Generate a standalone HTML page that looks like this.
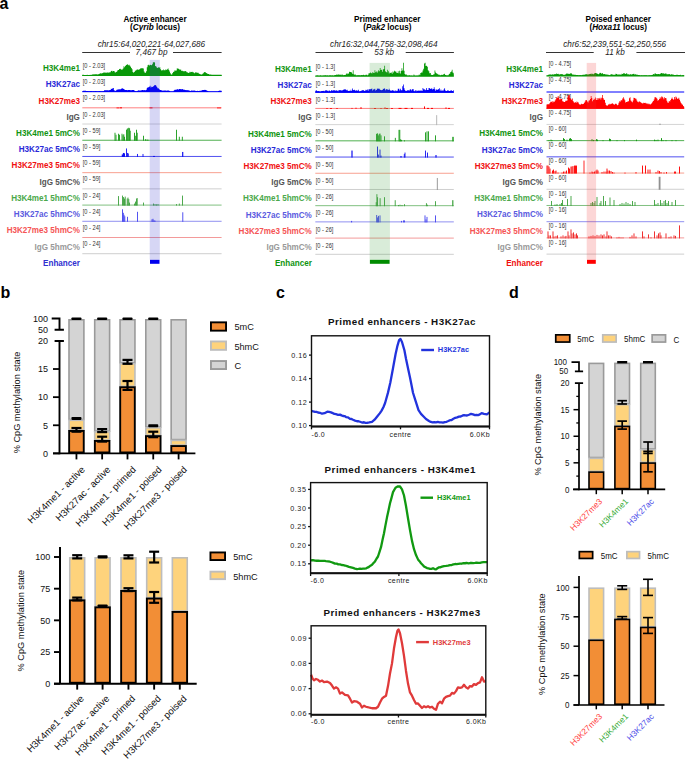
<!DOCTYPE html>
<html><head><meta charset="utf-8"><style>
html,body{margin:0;padding:0;background:#fff;width:685px;height:759px;overflow:hidden}
svg{display:block}
text{font-family:"Liberation Sans", sans-serif}
</style></head><body>
<svg width="685" height="759" viewBox="0 0 685 759">
<rect width="685" height="759" fill="#fff"/>
<g font-family='"Liberation Sans", sans-serif'>
<text x="-0.60" y="8.80" font-size="16" font-weight="bold" fill="#000" text-anchor="start" >a</text>
<text x="0" y="0" transform="translate(155.00,22.00) scale(0.91,1)" font-size="9.0" font-weight="bold" fill="#000" text-anchor="middle" >Active enhancer</text>
<text x="0" y="0" transform="translate(155.00,30.20) scale(0.91,1)" font-size="9.0" font-weight="bold" fill="#000" text-anchor="middle" >(<tspan font-style="italic">Cyrib</tspan> locus)</text>
<text x="151.40" y="46.50" font-size="8.2" font-style="italic" fill="#222" text-anchor="middle" >chr15:64,020,221-64,027,686</text>
<line x1="82.20" y1="52.50" x2="130.00" y2="52.50" stroke="#333" stroke-width="1.1" />
<line x1="173.00" y1="52.50" x2="221.60" y2="52.50" stroke="#333" stroke-width="1.1" />
<text x="151.50" y="54.80" font-size="8.2" font-style="italic" fill="#222" text-anchor="middle" >7,467 bp</text>
<text x="0" y="0" transform="translate(79.90,71.20) scale(0.9,1)" font-size="9.0" font-weight="bold" fill="#109410" text-anchor="end" >H3K4me1</text>
<text x="0" y="0" transform="translate(82.80,68.00) scale(0.86,1)" font-size="6.6" fill="#333" text-anchor="start" >[0 - 2.03]</text>
<path d="M82.30,75.90 L82.30,74.80 L83.05,74.80 L83.05,74.82 L83.80,74.82 L83.80,74.90 L84.55,74.90 L84.55,74.96 L85.30,74.96 L85.30,74.91 L86.05,74.91 L86.05,74.92 L86.80,74.92 L86.80,74.84 L87.55,74.84 L87.55,74.93 L88.30,74.93 L88.30,74.91 L89.05,74.91 L89.05,74.88 L89.80,74.88 L89.80,74.80 L90.55,74.80 L90.55,74.88 L91.30,74.88 L91.30,74.78 L92.05,74.78 L92.05,74.41 L92.80,74.41 L92.80,74.36 L93.55,74.36 L93.55,74.48 L94.30,74.48 L94.30,74.27 L95.05,74.27 L95.05,74.20 L95.80,74.20 L95.80,74.25 L96.55,74.25 L96.55,74.22 L97.30,74.22 L97.30,74.43 L98.05,74.43 L98.05,74.32 L98.80,74.32 L98.80,74.08 L99.55,74.08 L99.55,73.49 L100.30,73.49 L100.30,73.35 L101.05,73.35 L101.05,73.46 L101.80,73.46 L101.80,73.17 L102.55,73.17 L102.55,72.88 L103.30,72.88 L103.30,72.56 L104.05,72.56 L104.05,72.40 L104.80,72.40 L104.80,72.69 L105.55,72.69 L105.55,72.41 L106.30,72.41 L106.30,72.78 L107.05,72.78 L107.05,72.38 L107.80,72.38 L107.80,72.46 L108.55,72.46 L108.55,72.87 L109.30,72.87 L109.30,72.33 L110.05,72.33 L110.05,72.16 L110.80,72.16 L110.80,71.11 L111.55,71.11 L111.55,70.74 L112.30,70.74 L112.30,71.47 L113.05,71.47 L113.05,71.02 L113.80,71.02 L113.80,71.12 L114.55,71.12 L114.55,72.36 L115.30,72.36 L115.30,72.54 L116.05,72.54 L116.05,72.12 L116.80,72.12 L116.80,71.17 L117.55,71.17 L117.55,69.96 L118.30,69.96 L118.30,70.11 L119.05,70.11 L119.05,68.92 L119.80,68.92 L119.80,68.82 L120.55,68.82 L120.55,69.25 L121.30,69.25 L121.30,69.83 L122.05,69.83 L122.05,69.45 L122.80,69.45 L122.80,68.56 L123.55,68.56 L123.55,66.28 L124.30,66.28 L124.30,67.27 L125.05,67.27 L125.05,66.06 L125.80,66.06 L125.80,65.04 L126.55,65.04 L126.55,64.84 L127.30,64.84 L127.30,64.35 L128.05,64.35 L128.05,65.26 L128.80,65.26 L128.80,64.74 L129.55,64.74 L129.55,65.80 L130.30,65.80 L130.30,66.77 L131.05,66.77 L131.05,68.00 L131.80,68.00 L131.80,69.13 L132.55,69.13 L132.55,72.00 L133.30,72.00 L133.30,72.67 L134.05,72.67 L134.05,72.05 L134.80,72.05 L134.80,70.76 L135.55,70.76 L135.55,70.44 L136.30,70.44 L136.30,69.68 L137.05,69.68 L137.05,69.39 L137.80,69.39 L137.80,69.53 L138.55,69.53 L138.55,70.08 L139.30,70.08 L139.30,69.08 L140.05,69.08 L140.05,68.61 L140.80,68.61 L140.80,68.36 L141.55,68.36 L141.55,68.36 L142.30,68.36 L142.30,68.19 L143.05,68.19 L143.05,68.50 L143.80,68.50 L143.80,71.59 L144.55,71.59 L144.55,72.72 L145.30,72.72 L145.30,72.72 L146.05,72.72 L146.05,71.20 L146.80,71.20 L146.80,67.13 L147.55,67.13 L147.55,65.31 L148.30,65.31 L148.30,64.83 L149.05,64.83 L149.05,65.47 L149.80,65.47 L149.80,64.66 L150.55,64.66 L150.55,65.10 L151.30,65.10 L151.30,65.23 L152.05,65.23 L152.05,64.27 L152.80,64.27 L152.80,62.48 L153.55,62.48 L153.55,62.10 L154.30,62.10 L154.30,62.58 L155.05,62.58 L155.05,66.00 L155.80,66.00 L155.80,66.47 L156.55,66.47 L156.55,67.62 L157.30,67.62 L157.30,67.93 L158.05,67.93 L158.05,67.13 L158.80,67.13 L158.80,67.75 L159.55,67.75 L159.55,67.28 L160.30,67.28 L160.30,69.30 L161.05,69.30 L161.05,70.48 L161.80,70.48 L161.80,70.04 L162.55,70.04 L162.55,70.38 L163.30,70.38 L163.30,69.57 L164.05,69.57 L164.05,70.26 L164.80,70.26 L164.80,70.22 L165.55,70.22 L165.55,69.28 L166.30,69.28 L166.30,70.04 L167.05,70.04 L167.05,69.28 L167.80,69.28 L167.80,68.49 L168.55,68.49 L168.55,69.88 L169.30,69.88 L169.30,71.38 L170.05,71.38 L170.05,73.32 L170.80,73.32 L170.80,74.48 L171.55,74.48 L171.55,74.39 L172.30,74.39 L172.30,72.97 L173.05,72.97 L173.05,71.91 L173.80,71.91 L173.80,71.38 L174.55,71.38 L174.55,70.16 L175.30,70.16 L175.30,70.81 L176.05,70.81 L176.05,70.48 L176.80,70.48 L176.80,68.28 L177.55,68.28 L177.55,68.64 L178.30,68.64 L178.30,68.77 L179.05,68.77 L179.05,69.44 L179.80,69.44 L179.80,69.57 L180.55,69.57 L180.55,69.84 L181.30,69.84 L181.30,71.05 L182.05,71.05 L182.05,70.79 L182.80,70.79 L182.80,71.22 L183.55,71.22 L183.55,71.22 L184.30,71.22 L184.30,71.37 L185.05,71.37 L185.05,71.02 L185.80,71.02 L185.80,71.59 L186.55,71.59 L186.55,72.27 L187.30,72.27 L187.30,72.54 L188.05,72.54 L188.05,72.91 L188.80,72.91 L188.80,72.79 L189.55,72.79 L189.55,71.82 L190.30,71.82 L190.30,72.19 L191.05,72.19 L191.05,71.96 L191.80,71.96 L191.80,71.87 L192.55,71.87 L192.55,72.17 L193.30,72.17 L193.30,72.58 L194.05,72.58 L194.05,73.24 L194.80,73.24 L194.80,72.71 L195.55,72.71 L195.55,72.02 L196.30,72.02 L196.30,72.72 L197.05,72.72 L197.05,72.66 L197.80,72.66 L197.80,72.86 L198.55,72.86 L198.55,73.51 L199.30,73.51 L199.30,73.96 L200.05,73.96 L200.05,74.19 L200.80,74.19 L200.80,74.57 L201.55,74.57 L201.55,74.54 L202.30,74.54 L202.30,73.85 L203.05,73.85 L203.05,73.18 L203.80,73.18 L203.80,72.34 L204.55,72.34 L204.55,71.97 L205.30,71.97 L205.30,72.54 L206.05,72.54 L206.05,73.08 L206.80,73.08 L206.80,73.40 L207.55,73.40 L207.55,73.97 L208.30,73.97 L208.30,74.10 L209.05,74.10 L209.05,74.50 L209.80,74.50 L209.80,74.44 L210.55,74.44 L210.55,74.62 L211.30,74.62 L211.30,74.80 L212.05,74.80 L212.05,74.82 L212.80,74.82 L212.80,74.87 L213.55,74.87 L213.55,74.69 L214.30,74.69 L214.30,74.82 L215.05,74.82 L215.05,74.86 L215.80,74.86 L215.80,74.85 L216.55,74.85 L216.55,74.69 L217.30,74.69 L217.30,74.74 L218.05,74.74 L218.05,74.76 L218.80,74.76 L218.80,74.73 L219.55,74.73 L219.55,74.82 L220.30,74.82 L220.30,74.83 L221.05,74.83 L221.05,74.77 L221.60,74.77 L221.60,75.90 Z" fill="#089808"/>
<line x1="82.30" y1="75.50" x2="221.60" y2="75.50" stroke="#089808" stroke-width="0.9" />
<text x="0" y="0" transform="translate(79.90,87.41) scale(0.9,1)" font-size="9.0" font-weight="bold" fill="#2828d8" text-anchor="end" >H3K27ac</text>
<text x="0" y="0" transform="translate(82.80,84.21) scale(0.86,1)" font-size="6.6" fill="#333" text-anchor="start" >[0 - 2.03]</text>
<path d="M82.30,92.11 L82.30,91.16 L83.05,91.16 L83.05,90.79 L83.80,90.79 L83.80,90.64 L84.55,90.64 L84.55,90.74 L85.30,90.74 L85.30,90.77 L86.05,90.77 L86.05,90.95 L86.80,90.95 L86.80,91.03 L87.55,91.03 L87.55,91.00 L88.30,91.00 L88.30,91.22 L89.05,91.22 L89.05,91.28 L89.80,91.28 L89.80,91.04 L90.55,91.04 L90.55,91.12 L91.30,91.12 L91.30,91.03 L92.05,91.03 L92.05,91.25 L92.80,91.25 L92.80,91.16 L93.55,91.16 L93.55,91.05 L94.30,91.05 L94.30,91.18 L95.05,91.18 L95.05,90.98 L95.80,90.98 L95.80,90.96 L96.55,90.96 L96.55,91.23 L97.30,91.23 L97.30,91.29 L98.05,91.29 L98.05,91.13 L98.80,91.13 L98.80,90.97 L99.55,90.97 L99.55,91.12 L100.30,91.12 L100.30,91.20 L101.05,91.20 L101.05,91.15 L101.80,91.15 L101.80,91.27 L102.55,91.27 L102.55,91.23 L103.30,91.23 L103.30,90.88 L104.05,90.88 L104.05,90.27 L104.80,90.27 L104.80,90.31 L105.55,90.31 L105.55,90.32 L106.30,90.32 L106.30,90.33 L107.05,90.33 L107.05,90.18 L107.80,90.18 L107.80,90.26 L108.55,90.26 L108.55,90.45 L109.30,90.45 L109.30,89.96 L110.05,89.96 L110.05,90.04 L110.80,90.04 L110.80,88.74 L111.55,88.74 L111.55,88.99 L112.30,88.99 L112.30,88.13 L113.05,88.13 L113.05,88.11 L113.80,88.11 L113.80,89.90 L114.55,89.90 L114.55,91.15 L115.30,91.15 L115.30,90.76 L116.05,90.76 L116.05,90.13 L116.80,90.13 L116.80,89.57 L117.55,89.57 L117.55,89.72 L118.30,89.72 L118.30,89.32 L119.05,89.32 L119.05,89.25 L119.80,89.25 L119.80,89.44 L120.55,89.44 L120.55,89.07 L121.30,89.07 L121.30,88.55 L122.05,88.55 L122.05,88.31 L122.80,88.31 L122.80,88.65 L123.55,88.65 L123.55,88.92 L124.30,88.92 L124.30,89.74 L125.05,89.74 L125.05,90.00 L125.80,90.00 L125.80,89.90 L126.55,89.90 L126.55,90.12 L127.30,90.12 L127.30,90.32 L128.05,90.32 L128.05,90.12 L128.80,90.12 L128.80,89.98 L129.55,89.98 L129.55,89.97 L130.30,89.97 L130.30,90.16 L131.05,90.16 L131.05,90.16 L131.80,90.16 L131.80,90.11 L132.55,90.11 L132.55,89.93 L133.30,89.93 L133.30,90.06 L134.05,90.06 L134.05,90.49 L134.80,90.49 L134.80,90.99 L135.55,90.99 L135.55,91.24 L136.30,91.24 L136.30,91.28 L137.05,91.28 L137.05,90.96 L137.80,90.96 L137.80,90.37 L138.55,90.37 L138.55,90.40 L139.30,90.40 L139.30,90.49 L140.05,90.49 L140.05,90.60 L140.80,90.60 L140.80,90.41 L141.55,90.41 L141.55,90.07 L142.30,90.07 L142.30,90.09 L143.05,90.09 L143.05,90.20 L143.80,90.20 L143.80,90.00 L144.55,90.00 L144.55,90.31 L145.30,90.31 L145.30,90.17 L146.05,90.17 L146.05,89.76 L146.80,89.76 L146.80,88.07 L147.55,88.07 L147.55,87.27 L148.30,87.27 L148.30,87.30 L149.05,87.30 L149.05,86.69 L149.80,86.69 L149.80,85.80 L150.55,85.80 L150.55,87.50 L151.30,87.50 L151.30,86.83 L152.05,86.83 L152.05,86.93 L152.80,86.93 L152.80,86.41 L153.55,86.41 L153.55,85.90 L154.30,85.90 L154.30,85.03 L155.05,85.03 L155.05,85.10 L155.80,85.10 L155.80,85.78 L156.55,85.78 L156.55,86.89 L157.30,86.89 L157.30,88.29 L158.05,88.29 L158.05,88.15 L158.80,88.15 L158.80,89.08 L159.55,89.08 L159.55,89.91 L160.30,89.91 L160.30,90.05 L161.05,90.05 L161.05,90.28 L161.80,90.28 L161.80,90.59 L162.55,90.59 L162.55,90.73 L163.30,90.73 L163.30,90.62 L164.05,90.62 L164.05,90.49 L164.80,90.49 L164.80,90.41 L165.55,90.41 L165.55,90.43 L166.30,90.43 L166.30,90.63 L167.05,90.63 L167.05,90.51 L167.80,90.51 L167.80,90.48 L168.55,90.48 L168.55,90.54 L169.30,90.54 L169.30,90.95 L170.05,90.95 L170.05,91.41 L170.80,91.41 L170.80,91.41 L171.55,91.41 L171.55,91.41 L172.30,91.41 L172.30,91.41 L173.05,91.41 L173.05,91.30 L173.80,91.30 L173.80,90.20 L174.55,90.20 L174.55,89.79 L175.30,89.79 L175.30,89.78 L176.05,89.78 L176.05,89.77 L176.80,89.77 L176.80,89.09 L177.55,89.09 L177.55,89.42 L178.30,89.42 L178.30,89.58 L179.05,89.58 L179.05,89.00 L179.80,89.00 L179.80,89.05 L180.55,89.05 L180.55,89.25 L181.30,89.25 L181.30,89.17 L182.05,89.17 L182.05,89.02 L182.80,89.02 L182.80,89.57 L183.55,89.57 L183.55,89.83 L184.30,89.83 L184.30,89.82 L185.05,89.82 L185.05,90.00 L185.80,90.00 L185.80,90.13 L186.55,90.13 L186.55,90.05 L187.30,90.05 L187.30,90.34 L188.05,90.34 L188.05,90.31 L188.80,90.31 L188.80,90.48 L189.55,90.48 L189.55,90.80 L190.30,90.80 L190.30,90.88 L191.05,90.88 L191.05,90.50 L191.80,90.50 L191.80,90.58 L192.55,90.58 L192.55,90.71 L193.30,90.71 L193.30,90.51 L194.05,90.51 L194.05,90.38 L194.80,90.38 L194.80,90.79 L195.55,90.79 L195.55,90.92 L196.30,90.92 L196.30,90.94 L197.05,90.94 L197.05,90.76 L197.80,90.76 L197.80,91.00 L198.55,91.00 L198.55,90.90 L199.30,90.90 L199.30,90.87 L200.05,90.87 L200.05,90.76 L200.80,90.76 L200.80,90.75 L201.55,90.75 L201.55,90.20 L202.30,90.20 L202.30,90.02 L203.05,90.02 L203.05,90.01 L203.80,90.01 L203.80,90.07 L204.55,90.07 L204.55,89.74 L205.30,89.74 L205.30,90.08 L206.05,90.08 L206.05,90.27 L206.80,90.27 L206.80,90.67 L207.55,90.67 L207.55,91.00 L208.30,91.00 L208.30,91.41 L209.05,91.41 L209.05,91.41 L209.80,91.41 L209.80,91.41 L210.55,91.41 L210.55,91.41 L211.30,91.41 L211.30,91.41 L212.05,91.41 L212.05,91.41 L212.80,91.41 L212.80,91.41 L213.55,91.41 L213.55,91.41 L214.30,91.41 L214.30,91.41 L215.05,91.41 L215.05,91.41 L215.80,91.41 L215.80,91.41 L216.55,91.41 L216.55,91.41 L217.30,91.41 L217.30,91.40 L218.05,91.40 L218.05,91.06 L218.80,91.06 L218.80,90.64 L219.55,90.64 L219.55,90.49 L220.30,90.49 L220.30,90.63 L221.05,90.63 L221.05,90.84 L221.60,90.84 L221.60,92.11 Z" fill="#0000f8"/>
<line x1="82.30" y1="91.71" x2="221.60" y2="91.71" stroke="#0000f8" stroke-width="0.9" />
<text x="0" y="0" transform="translate(79.90,103.62) scale(0.9,1)" font-size="9.0" font-weight="bold" fill="#f01010" text-anchor="end" >H3K27me3</text>
<text x="0" y="0" transform="translate(82.80,100.42) scale(0.86,1)" font-size="6.6" fill="#333" text-anchor="start" >[0 - 2.03]</text>
<line x1="82.30" y1="107.82" x2="221.60" y2="107.82" stroke="#ff8080" stroke-width="1.0" />
<rect x="116.50" y="107.52" width="3.00" height="0.80" fill="#ff0000" />
<rect x="120.00" y="107.32" width="2.00" height="1.00" fill="#ff0000" />
<rect x="149.50" y="107.42" width="3.00" height="0.90" fill="#ff0000" />
<rect x="217.00" y="107.52" width="4.00" height="0.80" fill="#ff0000" />
<text x="0" y="0" transform="translate(79.90,119.83) scale(0.9,1)" font-size="9.0" font-weight="bold" fill="#555555" text-anchor="end" >IgG</text>
<text x="0" y="0" transform="translate(82.80,116.63) scale(0.86,1)" font-size="6.6" fill="#333" text-anchor="start" >[0 - 2.03]</text>
<line x1="82.30" y1="124.03" x2="221.60" y2="124.03" stroke="#d4d4d4" stroke-width="1.0" />
<text x="0" y="0" transform="translate(79.90,136.04) scale(0.9,1)" font-size="9.0" font-weight="bold" fill="#109410" text-anchor="end" >H3K4me1 5mC%</text>
<text x="0" y="0" transform="translate(82.80,132.84) scale(0.86,1)" font-size="6.6" fill="#333" text-anchor="start" >[0 - 59]</text>
<line x1="82.30" y1="140.24" x2="221.60" y2="140.24" stroke="#50b050" stroke-width="1.0" />
<rect x="114.55" y="132.74" width="0.90" height="8.00" fill="#159915" />
<rect x="115.55" y="134.74" width="0.90" height="6.00" fill="#159915" />
<rect x="118.05" y="133.74" width="0.90" height="7.00" fill="#159915" />
<rect x="119.05" y="134.74" width="0.90" height="6.00" fill="#159915" />
<rect x="121.55" y="133.74" width="0.90" height="7.00" fill="#159915" />
<rect x="122.55" y="135.24" width="0.90" height="5.50" fill="#159915" />
<rect x="123.35" y="134.24" width="0.90" height="6.50" fill="#159915" />
<rect x="124.05" y="136.74" width="0.90" height="4.00" fill="#159915" />
<rect x="126.05" y="129.74" width="0.90" height="11.00" fill="#159915" />
<rect x="126.85" y="128.74" width="0.90" height="12.00" fill="#159915" />
<rect x="127.55" y="128.24" width="0.90" height="12.50" fill="#159915" />
<rect x="128.35" y="127.74" width="0.90" height="13.00" fill="#159915" />
<rect x="129.15" y="128.24" width="0.90" height="12.50" fill="#159915" />
<rect x="129.75" y="130.74" width="0.90" height="10.00" fill="#159915" />
<rect x="134.05" y="132.74" width="0.90" height="8.00" fill="#159915" />
<rect x="134.85" y="135.74" width="0.90" height="5.00" fill="#159915" />
<rect x="136.05" y="129.74" width="0.90" height="11.00" fill="#159915" />
<rect x="136.75" y="132.74" width="0.90" height="8.00" fill="#159915" />
<rect x="143.05" y="135.74" width="0.90" height="5.00" fill="#159915" />
<rect x="145.05" y="139.24" width="0.90" height="1.50" fill="#159915" />
<rect x="146.55" y="139.54" width="0.90" height="1.20" fill="#159915" />
<rect x="147.55" y="139.74" width="0.90" height="1.00" fill="#159915" />
<rect x="176.05" y="129.74" width="0.90" height="11.00" fill="#159915" />
<rect x="178.85" y="136.74" width="0.90" height="4.00" fill="#159915" />
<rect x="181.85" y="136.74" width="0.90" height="4.00" fill="#159915" />
<text x="0" y="0" transform="translate(79.90,152.25) scale(0.9,1)" font-size="9.0" font-weight="bold" fill="#2828d8" text-anchor="end" >H3K27ac 5mC%</text>
<text x="0" y="0" transform="translate(82.80,149.05) scale(0.86,1)" font-size="6.6" fill="#333" text-anchor="start" >[0 - 59]</text>
<line x1="82.30" y1="156.45" x2="221.60" y2="156.45" stroke="#5050f0" stroke-width="1.0" />
<rect x="121.75" y="154.45" width="1.50" height="2.50" fill="#1010f0" />
<rect x="122.85" y="152.95" width="1.50" height="4.00" fill="#1010f0" />
<rect x="123.80" y="153.45" width="1.20" height="3.50" fill="#1010f0" />
<rect x="126.05" y="148.45" width="0.90" height="8.50" fill="#1010f0" />
<rect x="127.05" y="152.95" width="0.90" height="4.00" fill="#1010f0" />
<rect x="127.85" y="153.45" width="0.90" height="3.50" fill="#1010f0" />
<rect x="137.05" y="153.95" width="0.90" height="3.00" fill="#1010f0" />
<rect x="142.55" y="153.95" width="0.90" height="3.00" fill="#1010f0" />
<rect x="153.00" y="155.95" width="2.00" height="1.00" fill="#1010f0" />
<rect x="182.10" y="151.95" width="1.20" height="5.00" fill="#1010f0" />
<text x="0" y="0" transform="translate(79.90,168.46) scale(0.9,1)" font-size="9.0" font-weight="bold" fill="#f01010" text-anchor="end" >H3K27me3 5mC%</text>
<text x="0" y="0" transform="translate(82.80,165.26) scale(0.86,1)" font-size="6.6" fill="#333" text-anchor="start" >[0 - 59]</text>
<line x1="82.30" y1="172.66" x2="221.60" y2="172.66" stroke="#f8a090" stroke-width="1.0" />
<text x="0" y="0" transform="translate(79.90,184.67) scale(0.9,1)" font-size="9.0" font-weight="bold" fill="#555555" text-anchor="end" >IgG 5mC%</text>
<text x="0" y="0" transform="translate(82.80,181.47) scale(0.86,1)" font-size="6.6" fill="#333" text-anchor="start" >[0 - 59]</text>
<line x1="82.30" y1="188.87" x2="221.60" y2="188.87" stroke="#cfcfcf" stroke-width="1.0" />
<text x="0" y="0" transform="translate(79.90,200.88) scale(0.9,1)" font-size="9.0" font-weight="bold" fill="#4aa84a" text-anchor="end" >H3K4me1 5hmC%</text>
<text x="0" y="0" transform="translate(82.80,197.68) scale(0.86,1)" font-size="6.6" fill="#333" text-anchor="start" >[0 - 24]</text>
<line x1="82.30" y1="205.08" x2="221.60" y2="205.08" stroke="#80c080" stroke-width="1.0" />
<rect x="118.05" y="196.08" width="0.90" height="9.50" fill="#3aa03a" />
<rect x="122.05" y="195.58" width="0.90" height="10.00" fill="#3aa03a" />
<rect x="123.05" y="197.08" width="0.90" height="8.50" fill="#3aa03a" />
<rect x="124.05" y="198.58" width="0.90" height="7.00" fill="#3aa03a" />
<rect x="124.75" y="196.58" width="0.90" height="9.00" fill="#3aa03a" />
<rect x="126.75" y="198.58" width="0.90" height="7.00" fill="#3aa03a" />
<rect x="127.55" y="197.58" width="0.90" height="8.00" fill="#3aa03a" />
<rect x="128.35" y="199.08" width="0.90" height="6.50" fill="#3aa03a" />
<rect x="129.05" y="202.58" width="0.90" height="3.00" fill="#3aa03a" />
<rect x="134.05" y="203.58" width="0.90" height="2.00" fill="#3aa03a" />
<rect x="135.05" y="201.58" width="0.90" height="4.00" fill="#3aa03a" />
<rect x="136.05" y="198.58" width="0.90" height="7.00" fill="#3aa03a" />
<rect x="136.75" y="198.08" width="0.90" height="7.50" fill="#3aa03a" />
<rect x="143.05" y="202.58" width="0.90" height="3.00" fill="#3aa03a" />
<rect x="153.05" y="203.58" width="0.90" height="2.00" fill="#3aa03a" />
<rect x="154.55" y="204.08" width="0.90" height="1.50" fill="#3aa03a" />
<rect x="156.05" y="204.38" width="0.90" height="1.20" fill="#3aa03a" />
<rect x="157.55" y="204.08" width="0.90" height="1.50" fill="#3aa03a" />
<rect x="176.05" y="204.08" width="0.90" height="1.50" fill="#3aa03a" />
<rect x="178.85" y="203.58" width="0.90" height="2.00" fill="#3aa03a" />
<rect x="182.05" y="195.58" width="0.90" height="10.00" fill="#3aa03a" />
<text x="0" y="0" transform="translate(79.90,217.09) scale(0.9,1)" font-size="9.0" font-weight="bold" fill="#5a5ae0" text-anchor="end" >H3K27ac 5hmC%</text>
<text x="0" y="0" transform="translate(82.80,213.89) scale(0.86,1)" font-size="6.6" fill="#333" text-anchor="start" >[0 - 24]</text>
<line x1="82.30" y1="221.29" x2="221.60" y2="221.29" stroke="#9090f0" stroke-width="1.0" />
<rect x="122.05" y="209.29" width="0.90" height="12.50" fill="#4040f0" />
<rect x="122.85" y="212.79" width="0.90" height="9.00" fill="#4040f0" />
<rect x="123.55" y="214.79" width="0.90" height="7.00" fill="#4040f0" />
<rect x="124.35" y="216.29" width="0.90" height="5.50" fill="#4040f0" />
<rect x="127.05" y="216.79" width="0.90" height="5.00" fill="#4040f0" />
<rect x="137.05" y="211.79" width="0.90" height="10.00" fill="#4040f0" />
<rect x="151.55" y="219.29" width="0.90" height="2.50" fill="#4040f0" />
<rect x="152.55" y="218.79" width="0.90" height="3.00" fill="#4040f0" />
<rect x="153.55" y="220.29" width="0.90" height="1.50" fill="#4040f0" />
<rect x="154.55" y="220.59" width="0.90" height="1.20" fill="#4040f0" />
<rect x="182.35" y="212.29" width="0.90" height="9.50" fill="#4040f0" />
<text x="0" y="0" transform="translate(79.90,233.30) scale(0.9,1)" font-size="9.0" font-weight="bold" fill="#f55555" text-anchor="end" >H3K27me3 5hmC%</text>
<text x="0" y="0" transform="translate(82.80,230.10) scale(0.86,1)" font-size="6.6" fill="#333" text-anchor="start" >[0 - 24]</text>
<line x1="82.30" y1="237.50" x2="221.60" y2="237.50" stroke="#f39a9a" stroke-width="1.0" />
<text x="0" y="0" transform="translate(79.90,249.51) scale(0.9,1)" font-size="9.0" font-weight="bold" fill="#999999" text-anchor="end" >IgG 5hmC%</text>
<text x="0" y="0" transform="translate(82.80,246.31) scale(0.86,1)" font-size="6.6" fill="#333" text-anchor="start" >[0 - 24]</text>
<line x1="82.30" y1="253.71" x2="221.60" y2="253.71" stroke="#cfcfcf" stroke-width="1.0" />
<rect x="149.70" y="59.90" width="10.10" height="199.80" fill="#3333cc" fill-opacity="0.2"/>
<rect x="150.00" y="259.80" width="9.50" height="4.00" fill="#0000ee" />
<text x="0" y="0" transform="translate(79.90,265.50) scale(0.9,1)" font-size="9.0" font-weight="bold" fill="#3030d0" text-anchor="end" >Enhancer</text>
<text x="0" y="0" transform="translate(387.30,22.00) scale(0.91,1)" font-size="9.0" font-weight="bold" fill="#000" text-anchor="middle" >Primed enhancer</text>
<text x="0" y="0" transform="translate(387.30,30.20) scale(0.91,1)" font-size="9.0" font-weight="bold" fill="#000" text-anchor="middle" >(<tspan font-style="italic">Pak2</tspan> locus)</text>
<text x="383.75" y="46.50" font-size="8.2" font-style="italic" fill="#222" text-anchor="middle" >chr16:32,044,758-32,098,464</text>
<line x1="315.50" y1="52.50" x2="362.60" y2="52.50" stroke="#333" stroke-width="1.1" />
<line x1="405.70" y1="52.50" x2="453.90" y2="52.50" stroke="#333" stroke-width="1.1" />
<text x="384.15" y="54.80" font-size="8.2" font-style="italic" fill="#222" text-anchor="middle" >53 kb</text>
<text x="0" y="0" transform="translate(311.80,71.80) scale(0.9,1)" font-size="9.0" font-weight="bold" fill="#109410" text-anchor="end" >H3K4me1</text>
<text x="0" y="0" transform="translate(315.80,69.40) scale(0.86,1)" font-size="6.6" fill="#333" text-anchor="start" >[0 - 1.3]</text>
<path d="M315.30,76.50 L315.30,75.80 L316.05,75.80 L316.05,75.40 L316.80,75.40 L316.80,75.40 L317.55,75.40 L317.55,75.34 L318.30,75.34 L318.30,75.80 L319.05,75.80 L319.05,75.80 L319.80,75.80 L319.80,75.18 L320.55,75.18 L320.55,75.62 L321.30,75.62 L321.30,75.68 L322.05,75.68 L322.05,75.68 L322.80,75.68 L322.80,75.34 L323.55,75.34 L323.55,75.64 L324.30,75.64 L324.30,75.36 L325.05,75.36 L325.05,75.16 L325.80,75.16 L325.80,75.30 L326.55,75.30 L326.55,75.80 L327.30,75.80 L327.30,75.23 L328.05,75.23 L328.05,75.67 L328.80,75.67 L328.80,75.14 L329.55,75.14 L329.55,75.49 L330.30,75.49 L330.30,75.17 L331.05,75.17 L331.05,75.44 L331.80,75.44 L331.80,75.40 L332.55,75.40 L332.55,75.30 L333.30,75.30 L333.30,75.65 L334.05,75.65 L334.05,75.34 L334.80,75.34 L334.80,74.90 L335.55,74.90 L335.55,75.09 L336.30,75.09 L336.30,74.58 L337.05,74.58 L337.05,74.71 L337.80,74.71 L337.80,74.46 L338.55,74.46 L338.55,74.59 L339.30,74.59 L339.30,74.80 L340.05,74.80 L340.05,74.70 L340.80,74.70 L340.80,74.57 L341.55,74.57 L341.55,75.17 L342.30,75.17 L342.30,74.48 L343.05,74.48 L343.05,75.28 L343.80,75.28 L343.80,75.11 L344.55,75.11 L344.55,74.95 L345.30,74.95 L345.30,74.86 L346.05,74.86 L346.05,73.54 L346.80,73.54 L346.80,74.26 L347.55,74.26 L347.55,73.17 L348.30,73.17 L348.30,73.74 L349.05,73.74 L349.05,71.74 L349.80,71.74 L349.80,72.10 L350.55,72.10 L350.55,72.04 L351.30,72.04 L351.30,72.44 L352.05,72.44 L352.05,73.75 L352.80,73.75 L352.80,70.30 L353.55,70.30 L353.55,74.17 L354.30,74.17 L354.30,74.68 L355.05,74.68 L355.05,74.48 L355.80,74.48 L355.80,75.59 L356.55,75.59 L356.55,75.28 L357.30,75.28 L357.30,75.21 L358.05,75.21 L358.05,75.22 L358.80,75.22 L358.80,75.10 L359.55,75.10 L359.55,75.50 L360.30,75.50 L360.30,75.24 L361.05,75.24 L361.05,75.06 L361.80,75.06 L361.80,75.24 L362.55,75.24 L362.55,74.94 L363.30,74.94 L363.30,74.66 L364.05,74.66 L364.05,75.35 L364.80,75.35 L364.80,75.31 L365.55,75.31 L365.55,74.64 L366.30,74.64 L366.30,74.81 L367.05,74.81 L367.05,75.51 L367.80,75.51 L367.80,74.70 L368.55,74.70 L368.55,73.20 L369.30,73.20 L369.30,73.22 L370.05,73.22 L370.05,72.44 L370.80,72.44 L370.80,73.04 L371.55,73.04 L371.55,73.40 L372.30,73.40 L372.30,72.13 L373.05,72.13 L373.05,72.68 L373.80,72.68 L373.80,73.04 L374.55,73.04 L374.55,70.19 L375.30,70.19 L375.30,72.28 L376.05,72.28 L376.05,71.45 L376.80,71.45 L376.80,72.66 L377.55,72.66 L377.55,71.51 L378.30,71.51 L378.30,70.21 L379.05,70.21 L379.05,71.37 L379.80,71.37 L379.80,68.06 L380.55,68.06 L380.55,70.06 L381.30,70.06 L381.30,69.83 L382.05,69.83 L382.05,71.66 L382.80,71.66 L382.80,69.48 L383.55,69.48 L383.55,69.02 L384.30,69.02 L384.30,65.63 L385.05,65.63 L385.05,71.23 L385.80,71.23 L385.80,71.98 L386.55,71.98 L386.55,72.38 L387.30,72.38 L387.30,69.68 L388.05,69.68 L388.05,71.14 L388.80,71.14 L388.80,73.48 L389.55,73.48 L389.55,72.62 L390.30,72.62 L390.30,73.04 L391.05,73.04 L391.05,72.56 L391.80,72.56 L391.80,73.80 L392.55,73.80 L392.55,71.46 L393.30,71.46 L393.30,72.51 L394.05,72.51 L394.05,70.69 L394.80,70.69 L394.80,71.51 L395.55,71.51 L395.55,71.47 L396.30,71.47 L396.30,72.76 L397.05,72.76 L397.05,72.97 L397.80,72.97 L397.80,71.32 L398.55,71.32 L398.55,73.17 L399.30,73.17 L399.30,70.76 L400.05,70.76 L400.05,73.59 L400.80,73.59 L400.80,70.97 L401.55,70.97 L401.55,68.14 L402.30,68.14 L402.30,70.51 L403.05,70.51 L403.05,62.70 L403.80,62.70 L403.80,70.63 L404.55,70.63 L404.55,73.98 L405.30,73.98 L405.30,74.83 L406.05,74.83 L406.05,74.59 L406.80,74.59 L406.80,75.39 L407.55,75.39 L407.55,75.46 L408.30,75.46 L408.30,75.41 L409.05,75.41 L409.05,75.34 L409.80,75.34 L409.80,75.61 L410.55,75.61 L410.55,75.64 L411.30,75.64 L411.30,75.51 L412.05,75.51 L412.05,75.80 L412.80,75.80 L412.80,75.70 L413.55,75.70 L413.55,74.54 L414.30,74.54 L414.30,75.41 L415.05,75.41 L415.05,75.80 L415.80,75.80 L415.80,75.48 L416.55,75.48 L416.55,75.65 L417.30,75.65 L417.30,75.59 L418.05,75.59 L418.05,75.56 L418.80,75.56 L418.80,74.62 L419.55,74.62 L419.55,75.20 L420.30,75.20 L420.30,73.02 L421.05,73.02 L421.05,72.42 L421.80,72.42 L421.80,72.38 L422.55,72.38 L422.55,70.46 L423.30,70.46 L423.30,68.67 L424.05,68.67 L424.05,63.50 L424.80,63.50 L424.80,62.70 L425.55,62.70 L425.55,66.00 L426.30,66.00 L426.30,65.71 L427.05,65.71 L427.05,66.81 L427.80,66.81 L427.80,70.21 L428.55,70.21 L428.55,71.36 L429.30,71.36 L429.30,73.23 L430.05,73.23 L430.05,72.91 L430.80,72.91 L430.80,74.70 L431.55,74.70 L431.55,75.12 L432.30,75.12 L432.30,74.97 L433.05,74.97 L433.05,74.62 L433.80,74.62 L433.80,74.13 L434.55,74.13 L434.55,70.53 L435.30,70.53 L435.30,72.50 L436.05,72.50 L436.05,73.21 L436.80,73.21 L436.80,73.86 L437.55,73.86 L437.55,74.33 L438.30,74.33 L438.30,74.63 L439.05,74.63 L439.05,74.77 L439.80,74.77 L439.80,75.48 L440.55,75.48 L440.55,74.94 L441.30,74.94 L441.30,74.76 L442.05,74.76 L442.05,74.95 L442.80,74.95 L442.80,74.55 L443.55,74.55 L443.55,74.18 L444.30,74.18 L444.30,73.75 L445.05,73.75 L445.05,74.97 L445.80,74.97 L445.80,74.90 L446.55,74.90 L446.55,75.63 L447.30,75.63 L447.30,75.20 L448.05,75.20 L448.05,75.34 L448.80,75.34 L448.80,73.97 L449.55,73.97 L449.55,73.50 L450.30,73.50 L450.30,72.00 L451.05,72.00 L451.05,71.53 L451.80,71.53 L451.80,69.67 L452.55,69.67 L452.55,72.44 L453.30,72.44 L453.30,73.32 L453.80,73.32 L453.80,76.50 Z" fill="#089808"/>
<line x1="315.30" y1="76.10" x2="453.80" y2="76.10" stroke="#089808" stroke-width="0.9" />
<text x="0" y="0" transform="translate(311.80,88.01) scale(0.9,1)" font-size="9.0" font-weight="bold" fill="#2828d8" text-anchor="end" >H3K27ac</text>
<text x="0" y="0" transform="translate(315.80,85.61) scale(0.86,1)" font-size="6.6" fill="#333" text-anchor="start" >[0 - 1.3]</text>
<path d="M315.30,92.71 L315.30,90.79 L316.05,90.79 L316.05,90.29 L316.80,90.29 L316.80,90.91 L317.55,90.91 L317.55,91.22 L318.30,91.22 L318.30,91.11 L319.05,91.11 L319.05,91.20 L319.80,91.20 L319.80,91.38 L320.55,91.38 L320.55,91.34 L321.30,91.34 L321.30,90.96 L322.05,90.96 L322.05,91.00 L322.80,91.00 L322.80,90.88 L323.55,90.88 L323.55,90.83 L324.30,90.83 L324.30,91.26 L325.05,91.26 L325.05,90.42 L325.80,90.42 L325.80,90.06 L326.55,90.06 L326.55,90.74 L327.30,90.74 L327.30,90.64 L328.05,90.64 L328.05,91.22 L328.80,91.22 L328.80,90.32 L329.55,90.32 L329.55,91.12 L330.30,91.12 L330.30,91.15 L331.05,91.15 L331.05,90.23 L331.80,90.23 L331.80,90.20 L332.55,90.20 L332.55,90.99 L333.30,90.99 L333.30,90.10 L334.05,90.10 L334.05,90.25 L334.80,90.25 L334.80,90.52 L335.55,90.52 L335.55,90.83 L336.30,90.83 L336.30,90.29 L337.05,90.29 L337.05,90.78 L337.80,90.78 L337.80,91.32 L338.55,91.32 L338.55,90.03 L339.30,90.03 L339.30,90.22 L340.05,90.22 L340.05,90.36 L340.80,90.36 L340.80,90.11 L341.55,90.11 L341.55,91.04 L342.30,91.04 L342.30,89.91 L343.05,89.91 L343.05,89.64 L343.80,89.64 L343.80,89.53 L344.55,89.53 L344.55,89.29 L345.30,89.29 L345.30,89.55 L346.05,89.55 L346.05,90.14 L346.80,90.14 L346.80,89.67 L347.55,89.67 L347.55,90.71 L348.30,90.71 L348.30,91.06 L349.05,91.06 L349.05,90.86 L349.80,90.86 L349.80,91.10 L350.55,91.10 L350.55,89.82 L351.30,89.82 L351.30,91.06 L352.05,91.06 L352.05,88.54 L352.80,88.54 L352.80,90.10 L353.55,90.10 L353.55,90.34 L354.30,90.34 L354.30,89.70 L355.05,89.70 L355.05,90.63 L355.80,90.63 L355.80,90.19 L356.55,90.19 L356.55,90.60 L357.30,90.60 L357.30,90.72 L358.05,90.72 L358.05,89.78 L358.80,89.78 L358.80,91.16 L359.55,91.16 L359.55,91.17 L360.30,91.17 L360.30,91.08 L361.05,91.08 L361.05,90.68 L361.80,90.68 L361.80,90.21 L362.55,90.21 L362.55,90.15 L363.30,90.15 L363.30,90.17 L364.05,90.17 L364.05,91.02 L364.80,91.02 L364.80,90.65 L365.55,90.65 L365.55,89.81 L366.30,89.81 L366.30,90.22 L367.05,90.22 L367.05,89.42 L367.80,89.42 L367.80,90.75 L368.55,90.75 L368.55,89.22 L369.30,89.22 L369.30,89.32 L370.05,89.32 L370.05,89.19 L370.80,89.19 L370.80,89.01 L371.55,89.01 L371.55,88.50 L372.30,88.50 L372.30,90.51 L373.05,90.51 L373.05,89.60 L373.80,89.60 L373.80,89.19 L374.55,89.19 L374.55,88.84 L375.30,88.84 L375.30,90.40 L376.05,90.40 L376.05,89.90 L376.80,89.90 L376.80,88.87 L377.55,88.87 L377.55,88.58 L378.30,88.58 L378.30,88.71 L379.05,88.71 L379.05,88.71 L379.80,88.71 L379.80,89.79 L380.55,89.79 L380.55,89.93 L381.30,89.93 L381.30,90.25 L382.05,90.25 L382.05,90.04 L382.80,90.04 L382.80,88.79 L383.55,88.79 L383.55,88.98 L384.30,88.98 L384.30,88.24 L385.05,88.24 L385.05,90.15 L385.80,90.15 L385.80,89.00 L386.55,89.00 L386.55,89.51 L387.30,89.51 L387.30,89.38 L388.05,89.38 L388.05,89.99 L388.80,89.99 L388.80,88.82 L389.55,88.82 L389.55,90.02 L390.30,90.02 L390.30,90.85 L391.05,90.85 L391.05,90.77 L391.80,90.77 L391.80,90.29 L392.55,90.29 L392.55,90.29 L393.30,90.29 L393.30,90.84 L394.05,90.84 L394.05,91.18 L394.80,91.18 L394.80,90.30 L395.55,90.30 L395.55,91.24 L396.30,91.24 L396.30,90.68 L397.05,90.68 L397.05,90.70 L397.80,90.70 L397.80,88.81 L398.55,88.81 L398.55,88.70 L399.30,88.70 L399.30,90.61 L400.05,90.61 L400.05,88.64 L400.80,88.64 L400.80,90.15 L401.55,90.15 L401.55,90.19 L402.30,90.19 L402.30,86.24 L403.05,86.24 L403.05,84.61 L403.80,84.61 L403.80,88.29 L404.55,88.29 L404.55,89.89 L405.30,89.89 L405.30,90.97 L406.05,90.97 L406.05,90.94 L406.80,90.94 L406.80,90.25 L407.55,90.25 L407.55,90.43 L408.30,90.43 L408.30,90.30 L409.05,90.30 L409.05,90.55 L409.80,90.55 L409.80,89.22 L410.55,89.22 L410.55,89.57 L411.30,89.57 L411.30,90.48 L412.05,90.48 L412.05,89.22 L412.80,89.22 L412.80,89.03 L413.55,89.03 L413.55,90.78 L414.30,90.78 L414.30,91.23 L415.05,91.23 L415.05,90.24 L415.80,90.24 L415.80,91.15 L416.55,91.15 L416.55,90.30 L417.30,90.30 L417.30,91.03 L418.05,91.03 L418.05,90.39 L418.80,90.39 L418.80,91.01 L419.55,91.01 L419.55,90.35 L420.30,90.35 L420.30,90.73 L421.05,90.73 L421.05,90.54 L421.80,90.54 L421.80,90.90 L422.55,90.90 L422.55,87.88 L423.30,87.88 L423.30,89.16 L424.05,89.16 L424.05,89.19 L424.80,89.19 L424.80,90.21 L425.55,90.21 L425.55,89.86 L426.30,89.86 L426.30,87.88 L427.05,87.88 L427.05,90.04 L427.80,90.04 L427.80,90.00 L428.55,90.00 L428.55,88.02 L429.30,88.02 L429.30,88.31 L430.05,88.31 L430.05,88.94 L430.80,88.94 L430.80,88.59 L431.55,88.59 L431.55,88.54 L432.30,88.54 L432.30,89.43 L433.05,89.43 L433.05,89.02 L433.80,89.02 L433.80,87.27 L434.55,87.27 L434.55,89.35 L435.30,89.35 L435.30,90.87 L436.05,90.87 L436.05,89.51 L436.80,89.51 L436.80,89.83 L437.55,89.83 L437.55,89.83 L438.30,89.83 L438.30,89.06 L439.05,89.06 L439.05,88.28 L439.80,88.28 L439.80,90.69 L440.55,90.69 L440.55,89.40 L441.30,89.40 L441.30,90.69 L442.05,90.69 L442.05,90.41 L442.80,90.41 L442.80,90.69 L443.55,90.69 L443.55,89.54 L444.30,89.54 L444.30,88.26 L445.05,88.26 L445.05,90.56 L445.80,90.56 L445.80,91.10 L446.55,91.10 L446.55,91.02 L447.30,91.02 L447.30,90.16 L448.05,90.16 L448.05,90.40 L448.80,90.40 L448.80,91.07 L449.55,91.07 L449.55,90.96 L450.30,90.96 L450.30,90.60 L451.05,90.60 L451.05,90.17 L451.80,90.17 L451.80,90.96 L452.55,90.96 L452.55,91.00 L453.30,91.00 L453.30,90.10 L453.80,90.10 L453.80,92.71 Z" fill="#0000f8"/>
<line x1="315.30" y1="92.31" x2="453.80" y2="92.31" stroke="#0000f8" stroke-width="0.9" />
<text x="0" y="0" transform="translate(311.80,104.22) scale(0.9,1)" font-size="9.0" font-weight="bold" fill="#f01010" text-anchor="end" >H3K27me3</text>
<text x="0" y="0" transform="translate(315.80,101.82) scale(0.86,1)" font-size="6.6" fill="#333" text-anchor="start" >[0 - 1.3]</text>
<line x1="315.30" y1="108.42" x2="453.80" y2="108.42" stroke="#ff8080" stroke-width="1.0" />
<rect x="326.25" y="108.12" width="1.50" height="0.80" fill="#ff0000" />
<rect x="330.00" y="108.12" width="2.00" height="0.80" fill="#ff0000" />
<rect x="336.25" y="108.12" width="1.50" height="0.80" fill="#ff0000" />
<rect x="351.50" y="107.92" width="1.00" height="1.00" fill="#ff0000" />
<rect x="355.50" y="107.72" width="1.00" height="1.20" fill="#ff0000" />
<rect x="360.50" y="107.12" width="1.00" height="1.80" fill="#ff0000" />
<rect x="374.00" y="108.12" width="2.00" height="0.80" fill="#ff0000" />
<rect x="380.50" y="108.02" width="1.00" height="0.90" fill="#ff0000" />
<rect x="384.50" y="107.42" width="1.00" height="1.50" fill="#ff0000" />
<rect x="386.00" y="108.12" width="2.00" height="0.80" fill="#ff0000" />
<rect x="391.00" y="108.12" width="2.00" height="0.80" fill="#ff0000" />
<rect x="398.50" y="107.92" width="3.00" height="1.00" fill="#ff0000" />
<rect x="404.50" y="107.92" width="3.00" height="1.00" fill="#ff0000" />
<rect x="411.00" y="107.92" width="2.00" height="1.00" fill="#ff0000" />
<rect x="424.00" y="106.42" width="1.00" height="2.50" fill="#ff0000" />
<rect x="427.00" y="107.92" width="2.00" height="1.00" fill="#ff0000" />
<rect x="431.00" y="107.92" width="2.00" height="1.00" fill="#ff0000" />
<rect x="445.50" y="107.42" width="1.00" height="1.50" fill="#ff0000" />
<rect x="448.00" y="107.92" width="2.00" height="1.00" fill="#ff0000" />
<text x="0" y="0" transform="translate(311.80,120.43) scale(0.9,1)" font-size="9.0" font-weight="bold" fill="#555555" text-anchor="end" >IgG</text>
<text x="0" y="0" transform="translate(315.80,118.03) scale(0.86,1)" font-size="6.6" fill="#333" text-anchor="start" >[0 - 1.3]</text>
<line x1="315.30" y1="124.63" x2="453.80" y2="124.63" stroke="#d4d4d4" stroke-width="1.0" />
<rect x="436.25" y="115.13" width="0.90" height="10.00" fill="#b0b0b0" />
<text x="0" y="0" transform="translate(311.80,136.64) scale(0.9,1)" font-size="9.0" font-weight="bold" fill="#109410" text-anchor="end" >H3K4me1 5mC%</text>
<text x="0" y="0" transform="translate(315.80,134.24) scale(0.86,1)" font-size="6.6" fill="#333" text-anchor="start" >[0 - 50]</text>
<line x1="315.30" y1="140.84" x2="453.80" y2="140.84" stroke="#50b050" stroke-width="1.0" />
<rect x="376.15" y="133.84" width="0.90" height="7.50" fill="#159915" />
<rect x="376.95" y="133.34" width="0.90" height="8.00" fill="#159915" />
<rect x="377.85" y="135.34" width="0.90" height="6.00" fill="#159915" />
<rect x="378.75" y="133.84" width="0.90" height="7.50" fill="#159915" />
<rect x="379.55" y="133.54" width="0.90" height="7.80" fill="#159915" />
<rect x="380.55" y="135.34" width="0.90" height="6.00" fill="#159915" />
<rect x="384.05" y="136.34" width="0.90" height="5.00" fill="#159915" />
<rect x="394.85" y="137.84" width="0.90" height="3.50" fill="#159915" />
<rect x="398.55" y="129.84" width="0.90" height="11.50" fill="#159915" />
<rect x="399.35" y="129.84" width="0.90" height="11.50" fill="#159915" />
<rect x="400.05" y="139.34" width="0.90" height="2.00" fill="#159915" />
<rect x="401.05" y="139.84" width="0.90" height="1.50" fill="#159915" />
<rect x="404.05" y="140.34" width="0.90" height="1.00" fill="#159915" />
<rect x="425.05" y="132.34" width="0.90" height="9.00" fill="#159915" />
<rect x="426.55" y="131.34" width="0.90" height="10.00" fill="#159915" />
<rect x="428.05" y="131.34" width="0.90" height="10.00" fill="#159915" />
<rect x="435.05" y="135.34" width="0.90" height="6.00" fill="#159915" />
<rect x="452.30" y="136.84" width="1.40" height="4.50" fill="#159915" />
<text x="0" y="0" transform="translate(311.80,152.85) scale(0.9,1)" font-size="9.0" font-weight="bold" fill="#2828d8" text-anchor="end" >H3K27ac 5mC%</text>
<text x="0" y="0" transform="translate(315.80,150.45) scale(0.86,1)" font-size="6.6" fill="#333" text-anchor="start" >[0 - 50]</text>
<line x1="315.30" y1="157.05" x2="453.80" y2="157.05" stroke="#5050f0" stroke-width="1.0" />
<rect x="351.40" y="150.55" width="1.20" height="7.00" fill="#1010f0" />
<rect x="377.05" y="146.55" width="0.90" height="11.00" fill="#1010f0" />
<rect x="377.85" y="154.55" width="0.90" height="3.00" fill="#1010f0" />
<rect x="379.55" y="149.55" width="0.90" height="8.00" fill="#1010f0" />
<rect x="380.55" y="155.55" width="0.90" height="2.00" fill="#1010f0" />
<rect x="400.40" y="156.05" width="1.20" height="1.50" fill="#1010f0" />
<rect x="403.85" y="154.05" width="0.90" height="3.50" fill="#1010f0" />
<rect x="404.55" y="152.55" width="0.90" height="5.00" fill="#1010f0" />
<rect x="425.05" y="150.55" width="0.90" height="7.00" fill="#1010f0" />
<rect x="427.05" y="152.55" width="0.90" height="5.00" fill="#1010f0" />
<rect x="435.40" y="155.05" width="1.20" height="2.50" fill="#1010f0" />
<text x="0" y="0" transform="translate(311.80,169.06) scale(0.9,1)" font-size="9.0" font-weight="bold" fill="#f01010" text-anchor="end" >H3K27me3 5mC%</text>
<text x="0" y="0" transform="translate(315.80,166.66) scale(0.86,1)" font-size="6.6" fill="#333" text-anchor="start" >[0 - 50]</text>
<line x1="315.30" y1="173.26" x2="453.80" y2="173.26" stroke="#f8a090" stroke-width="1.0" />
<text x="0" y="0" transform="translate(311.80,185.27) scale(0.9,1)" font-size="9.0" font-weight="bold" fill="#555555" text-anchor="end" >IgG 5mC%</text>
<text x="0" y="0" transform="translate(315.80,182.87) scale(0.86,1)" font-size="6.6" fill="#333" text-anchor="start" >[0 - 50]</text>
<line x1="315.30" y1="189.47" x2="453.80" y2="189.47" stroke="#cfcfcf" stroke-width="1.0" />
<rect x="436.85" y="177.97" width="0.90" height="12.00" fill="#909090" />
<text x="0" y="0" transform="translate(311.80,201.48) scale(0.9,1)" font-size="9.0" font-weight="bold" fill="#4aa84a" text-anchor="end" >H3K4me1 5hmC%</text>
<text x="0" y="0" transform="translate(315.80,199.08) scale(0.86,1)" font-size="6.6" fill="#333" text-anchor="start" >[0 - 26]</text>
<line x1="315.30" y1="205.68" x2="453.80" y2="205.68" stroke="#80c080" stroke-width="1.0" />
<rect x="375.75" y="202.18" width="0.90" height="4.00" fill="#3aa03a" />
<rect x="376.45" y="194.18" width="0.90" height="12.00" fill="#3aa03a" />
<rect x="377.15" y="197.18" width="0.90" height="9.00" fill="#3aa03a" />
<rect x="379.65" y="198.18" width="0.90" height="8.00" fill="#3aa03a" />
<rect x="384.05" y="197.18" width="0.90" height="9.00" fill="#3aa03a" />
<rect x="394.75" y="200.18" width="0.90" height="6.00" fill="#3aa03a" />
<rect x="398.05" y="204.98" width="0.90" height="1.20" fill="#3aa03a" />
<rect x="399.55" y="204.68" width="0.90" height="1.50" fill="#3aa03a" />
<rect x="401.55" y="204.98" width="0.90" height="1.20" fill="#3aa03a" />
<rect x="404.05" y="204.18" width="0.90" height="2.00" fill="#3aa03a" />
<rect x="425.95" y="203.18" width="0.90" height="3.00" fill="#3aa03a" />
<rect x="426.85" y="204.68" width="0.90" height="1.50" fill="#3aa03a" />
<rect x="435.05" y="201.18" width="0.90" height="5.00" fill="#3aa03a" />
<rect x="452.20" y="200.18" width="1.20" height="6.00" fill="#3aa03a" />
<text x="0" y="0" transform="translate(311.80,217.69) scale(0.9,1)" font-size="9.0" font-weight="bold" fill="#5a5ae0" text-anchor="end" >H3K27ac 5hmC%</text>
<text x="0" y="0" transform="translate(315.80,215.29) scale(0.86,1)" font-size="6.6" fill="#333" text-anchor="start" >[0 - 26]</text>
<line x1="315.30" y1="221.89" x2="453.80" y2="221.89" stroke="#9090f0" stroke-width="1.0" />
<rect x="351.10" y="220.89" width="1.00" height="1.50" fill="#4040f0" />
<rect x="376.25" y="214.99" width="0.90" height="7.40" fill="#4040f0" />
<rect x="377.15" y="217.39" width="0.90" height="5.00" fill="#4040f0" />
<rect x="378.05" y="215.89" width="0.90" height="6.50" fill="#4040f0" />
<rect x="379.55" y="215.39" width="0.90" height="7.00" fill="#4040f0" />
<rect x="401.05" y="220.89" width="0.90" height="1.50" fill="#4040f0" />
<rect x="403.05" y="220.39" width="0.90" height="2.00" fill="#4040f0" />
<rect x="404.05" y="220.39" width="0.90" height="2.00" fill="#4040f0" />
<rect x="424.55" y="215.39" width="0.90" height="7.00" fill="#4040f0" />
<rect x="425.55" y="219.39" width="0.90" height="3.00" fill="#4040f0" />
<rect x="426.55" y="216.89" width="0.90" height="5.50" fill="#4040f0" />
<rect x="435.05" y="215.39" width="0.90" height="7.00" fill="#4040f0" />
<text x="0" y="0" transform="translate(311.80,233.90) scale(0.9,1)" font-size="9.0" font-weight="bold" fill="#f55555" text-anchor="end" >H3K27me3 5hmC%</text>
<text x="0" y="0" transform="translate(315.80,231.50) scale(0.86,1)" font-size="6.6" fill="#333" text-anchor="start" >[0 - 26]</text>
<line x1="315.30" y1="238.10" x2="453.80" y2="238.10" stroke="#f39a9a" stroke-width="1.0" />
<text x="0" y="0" transform="translate(311.80,250.11) scale(0.9,1)" font-size="9.0" font-weight="bold" fill="#999999" text-anchor="end" >IgG 5hmC%</text>
<text x="0" y="0" transform="translate(315.80,247.71) scale(0.86,1)" font-size="6.6" fill="#333" text-anchor="start" >[0 - 26]</text>
<line x1="315.30" y1="254.31" x2="453.80" y2="254.31" stroke="#cfcfcf" stroke-width="1.0" />
<rect x="369.60" y="62.90" width="20.30" height="196.80" fill="#40a040" fill-opacity="0.2"/>
<rect x="369.90" y="259.80" width="19.70" height="4.00" fill="#008c00" />
<text x="0" y="0" transform="translate(311.80,265.50) scale(0.9,1)" font-size="9.0" font-weight="bold" fill="#109410" text-anchor="end" >Enhancer</text>
<text x="0" y="0" transform="translate(618.20,22.00) scale(0.91,1)" font-size="9.0" font-weight="bold" fill="#000" text-anchor="middle" >Poised enhancer</text>
<text x="0" y="0" transform="translate(618.20,30.20) scale(0.91,1)" font-size="9.0" font-weight="bold" fill="#000" text-anchor="middle" >(<tspan font-style="italic">Hoxa11</tspan> locus)</text>
<text x="614.70" y="46.50" font-size="8.2" font-style="italic" fill="#222" text-anchor="middle" >chr6:52,239,551-52,250,556</text>
<line x1="546.00" y1="52.50" x2="593.70" y2="52.50" stroke="#333" stroke-width="1.1" />
<line x1="636.40" y1="52.50" x2="685.00" y2="52.50" stroke="#333" stroke-width="1.1" />
<text x="615.05" y="54.80" font-size="8.2" font-style="italic" fill="#222" text-anchor="middle" >11 kb</text>
<text x="0" y="0" transform="translate(543.00,71.60) scale(0.9,1)" font-size="9.0" font-weight="bold" fill="#109410" text-anchor="end" >H3K4me1</text>
<text x="0" y="0" transform="translate(548.80,66.20) scale(0.86,1)" font-size="6.6" fill="#333" text-anchor="start" >[0 - 4.75]</text>
<path d="M546.50,76.30 L546.50,75.49 L547.25,75.49 L547.25,75.24 L548.00,75.24 L548.00,74.65 L548.75,74.65 L548.75,74.83 L549.50,74.83 L549.50,74.14 L550.25,74.14 L550.25,74.48 L551.00,74.48 L551.00,74.74 L551.75,74.74 L551.75,74.28 L552.50,74.28 L552.50,74.45 L553.25,74.45 L553.25,74.61 L554.00,74.61 L554.00,74.31 L554.75,74.31 L554.75,74.00 L555.50,74.00 L555.50,74.22 L556.25,74.22 L556.25,73.51 L557.00,73.51 L557.00,74.05 L557.75,74.05 L557.75,73.75 L558.50,73.75 L558.50,74.13 L559.25,74.13 L559.25,74.51 L560.00,74.51 L560.00,74.29 L560.75,74.29 L560.75,74.08 L561.50,74.08 L561.50,74.31 L562.25,74.31 L562.25,74.30 L563.00,74.30 L563.00,74.75 L563.75,74.75 L563.75,74.74 L564.50,74.74 L564.50,74.66 L565.25,74.66 L565.25,74.17 L566.00,74.17 L566.00,73.55 L566.75,73.55 L566.75,73.88 L567.50,73.88 L567.50,73.35 L568.25,73.35 L568.25,74.08 L569.00,74.08 L569.00,74.03 L569.75,74.03 L569.75,73.41 L570.50,73.41 L570.50,73.37 L571.25,73.37 L571.25,73.59 L572.00,73.59 L572.00,74.49 L572.75,74.49 L572.75,74.48 L573.50,74.48 L573.50,74.84 L574.25,74.84 L574.25,74.65 L575.00,74.65 L575.00,74.86 L575.75,74.86 L575.75,74.97 L576.50,74.97 L576.50,75.07 L577.25,75.07 L577.25,75.00 L578.00,75.00 L578.00,75.21 L578.75,75.21 L578.75,74.96 L579.50,74.96 L579.50,75.25 L580.25,75.25 L580.25,74.96 L581.00,74.96 L581.00,75.32 L581.75,75.32 L581.75,75.00 L582.50,75.00 L582.50,74.72 L583.25,74.72 L583.25,74.79 L584.00,74.79 L584.00,74.86 L584.75,74.86 L584.75,74.42 L585.50,74.42 L585.50,74.23 L586.25,74.23 L586.25,74.16 L587.00,74.16 L587.00,74.39 L587.75,74.39 L587.75,74.16 L588.50,74.16 L588.50,74.58 L589.25,74.58 L589.25,73.97 L590.00,73.97 L590.00,74.05 L590.75,74.05 L590.75,73.58 L591.50,73.58 L591.50,74.27 L592.25,74.27 L592.25,73.83 L593.00,73.83 L593.00,74.14 L593.75,74.14 L593.75,73.87 L594.50,73.87 L594.50,72.94 L595.25,72.94 L595.25,73.02 L596.00,73.02 L596.00,73.16 L596.75,73.16 L596.75,73.55 L597.50,73.55 L597.50,73.98 L598.25,73.98 L598.25,74.14 L599.00,74.14 L599.00,73.42 L599.75,73.42 L599.75,72.64 L600.50,72.64 L600.50,72.93 L601.25,72.93 L601.25,73.78 L602.00,73.78 L602.00,73.02 L602.75,73.02 L602.75,73.90 L603.50,73.90 L603.50,74.36 L604.25,74.36 L604.25,74.03 L605.00,74.03 L605.00,74.17 L605.75,74.17 L605.75,74.71 L606.50,74.71 L606.50,74.20 L607.25,74.20 L607.25,74.76 L608.00,74.76 L608.00,74.85 L608.75,74.85 L608.75,75.10 L609.50,75.10 L609.50,75.15 L610.25,75.15 L610.25,74.39 L611.00,74.39 L611.00,74.18 L611.75,74.18 L611.75,74.37 L612.50,74.37 L612.50,74.87 L613.25,74.87 L613.25,74.81 L614.00,74.81 L614.00,74.73 L614.75,74.73 L614.75,74.76 L615.50,74.76 L615.50,73.82 L616.25,73.82 L616.25,73.91 L617.00,73.91 L617.00,74.46 L617.75,74.46 L617.75,74.47 L618.50,74.47 L618.50,74.47 L619.25,74.47 L619.25,74.62 L620.00,74.62 L620.00,74.60 L620.75,74.60 L620.75,74.67 L621.50,74.67 L621.50,73.67 L622.25,73.67 L622.25,74.07 L623.00,74.07 L623.00,73.51 L623.75,73.51 L623.75,72.91 L624.50,72.91 L624.50,73.67 L625.25,73.67 L625.25,74.12 L626.00,74.12 L626.00,73.22 L626.75,73.22 L626.75,73.71 L627.50,73.71 L627.50,74.57 L628.25,74.57 L628.25,74.28 L629.00,74.28 L629.00,74.65 L629.75,74.65 L629.75,73.89 L630.50,73.89 L630.50,74.49 L631.25,74.49 L631.25,74.45 L632.00,74.45 L632.00,74.31 L632.75,74.31 L632.75,73.92 L633.50,73.92 L633.50,73.70 L634.25,73.70 L634.25,74.40 L635.00,74.40 L635.00,74.14 L635.75,74.14 L635.75,74.52 L636.50,74.52 L636.50,74.68 L637.25,74.68 L637.25,74.67 L638.00,74.67 L638.00,75.08 L638.75,75.08 L638.75,75.00 L639.50,75.00 L639.50,75.30 L640.25,75.30 L640.25,75.46 L641.00,75.46 L641.00,75.26 L641.75,75.26 L641.75,75.29 L642.50,75.29 L642.50,75.52 L643.25,75.52 L643.25,75.13 L644.00,75.13 L644.00,75.14 L644.75,75.14 L644.75,75.29 L645.50,75.29 L645.50,75.16 L646.25,75.16 L646.25,75.14 L647.00,75.14 L647.00,75.49 L647.75,75.49 L647.75,75.55 L648.50,75.55 L648.50,75.35 L649.25,75.35 L649.25,75.35 L650.00,75.35 L650.00,75.13 L650.75,75.13 L650.75,75.21 L651.50,75.21 L651.50,75.10 L652.25,75.10 L652.25,74.73 L653.00,74.73 L653.00,73.91 L653.75,73.91 L653.75,74.55 L654.50,74.55 L654.50,73.44 L655.25,73.44 L655.25,73.62 L656.00,73.62 L656.00,73.94 L656.75,73.94 L656.75,74.31 L657.50,74.31 L657.50,73.97 L658.25,73.97 L658.25,73.91 L659.00,73.91 L659.00,74.36 L659.75,74.36 L659.75,74.02 L660.50,74.02 L660.50,73.28 L661.25,73.28 L661.25,73.05 L662.00,73.05 L662.00,73.28 L662.75,73.28 L662.75,73.69 L663.50,73.69 L663.50,73.11 L664.25,73.11 L664.25,74.05 L665.00,74.05 L665.00,73.39 L665.75,73.39 L665.75,73.40 L666.50,73.40 L666.50,74.19 L667.25,74.19 L667.25,74.20 L668.00,74.20 L668.00,74.27 L668.75,74.27 L668.75,74.04 L669.50,74.04 L669.50,74.31 L670.25,74.31 L670.25,74.71 L671.00,74.71 L671.00,74.35 L671.75,74.35 L671.75,74.58 L672.50,74.58 L672.50,74.43 L673.25,74.43 L673.25,74.77 L674.00,74.77 L674.00,74.88 L674.75,74.88 L674.75,74.94 L675.50,74.94 L675.50,75.10 L676.25,75.10 L676.25,74.75 L677.00,74.75 L677.00,74.79 L677.75,74.79 L677.75,75.01 L678.50,75.01 L678.50,74.95 L679.25,74.95 L679.25,74.92 L680.00,74.92 L680.00,74.80 L680.75,74.80 L680.75,75.27 L681.50,75.27 L681.50,75.42 L682.25,75.42 L682.25,75.06 L683.00,75.06 L683.00,75.00 L683.75,75.00 L683.75,75.13 L684.20,75.13 L684.20,76.30 Z" fill="#089808"/>
<line x1="546.50" y1="75.90" x2="684.20" y2="75.90" stroke="#089808" stroke-width="0.9" />
<text x="0" y="0" transform="translate(543.00,87.81) scale(0.9,1)" font-size="9.0" font-weight="bold" fill="#2828d8" text-anchor="end" >H3K27ac</text>
<text x="0" y="0" transform="translate(548.80,82.41) scale(0.86,1)" font-size="6.6" fill="#333" text-anchor="start" >[0 - 4.75]</text>
<line x1="546.50" y1="92.01" x2="684.20" y2="92.01" stroke="#0000ff" stroke-width="1.0" />
<text x="0" y="0" transform="translate(543.00,104.02) scale(0.9,1)" font-size="9.0" font-weight="bold" fill="#f01010" text-anchor="end" >H3K27me3</text>
<text x="0" y="0" transform="translate(548.80,98.62) scale(0.86,1)" font-size="6.6" fill="#333" text-anchor="start" >[0 - 4.75]</text>
<path d="M546.50,108.72 L546.50,104.46 L547.25,104.46 L547.25,104.27 L548.00,104.27 L548.00,104.23 L548.75,104.23 L548.75,104.27 L549.50,104.27 L549.50,103.02 L550.25,103.02 L550.25,101.64 L551.00,101.64 L551.00,102.09 L551.75,102.09 L551.75,101.03 L552.50,101.03 L552.50,102.48 L553.25,102.48 L553.25,101.47 L554.00,101.47 L554.00,101.78 L554.75,101.78 L554.75,100.53 L555.50,100.53 L555.50,99.30 L556.25,99.30 L556.25,97.60 L557.00,97.60 L557.00,97.74 L557.75,97.74 L557.75,95.92 L558.50,95.92 L558.50,97.81 L559.25,97.81 L559.25,99.48 L560.00,99.48 L560.00,99.28 L560.75,99.28 L560.75,98.79 L561.50,98.79 L561.50,99.04 L562.25,99.04 L562.25,101.31 L563.00,101.31 L563.00,101.60 L563.75,101.60 L563.75,101.98 L564.50,101.98 L564.50,101.90 L565.25,101.90 L565.25,100.84 L566.00,100.84 L566.00,100.82 L566.75,100.82 L566.75,100.51 L567.50,100.51 L567.50,96.52 L568.25,96.52 L568.25,94.92 L569.00,94.92 L569.00,94.92 L569.75,94.92 L569.75,98.07 L570.50,98.07 L570.50,98.70 L571.25,98.70 L571.25,99.75 L572.00,99.75 L572.00,98.40 L572.75,98.40 L572.75,101.02 L573.50,101.02 L573.50,102.16 L574.25,102.16 L574.25,102.74 L575.00,102.74 L575.00,102.02 L575.75,102.02 L575.75,102.95 L576.50,102.95 L576.50,101.42 L577.25,101.42 L577.25,102.37 L578.00,102.37 L578.00,102.48 L578.75,102.48 L578.75,103.95 L579.50,103.95 L579.50,104.74 L580.25,104.74 L580.25,104.42 L581.00,104.42 L581.00,103.76 L581.75,103.76 L581.75,104.36 L582.50,104.36 L582.50,103.99 L583.25,103.99 L583.25,103.80 L584.00,103.80 L584.00,102.83 L584.75,102.83 L584.75,101.43 L585.50,101.43 L585.50,99.96 L586.25,99.96 L586.25,100.14 L587.00,100.14 L587.00,101.47 L587.75,101.47 L587.75,102.47 L588.50,102.47 L588.50,100.85 L589.25,100.85 L589.25,100.15 L590.00,100.15 L590.00,99.12 L590.75,99.12 L590.75,95.98 L591.50,95.98 L591.50,97.99 L592.25,97.99 L592.25,101.34 L593.00,101.34 L593.00,100.06 L593.75,100.06 L593.75,98.87 L594.50,98.87 L594.50,99.53 L595.25,99.53 L595.25,97.61 L596.00,97.61 L596.00,99.93 L596.75,99.93 L596.75,97.91 L597.50,97.91 L597.50,99.80 L598.25,99.80 L598.25,98.14 L599.00,98.14 L599.00,98.43 L599.75,98.43 L599.75,97.76 L600.50,97.76 L600.50,99.47 L601.25,99.47 L601.25,97.74 L602.00,97.74 L602.00,95.11 L602.75,95.11 L602.75,97.93 L603.50,97.93 L603.50,99.48 L604.25,99.48 L604.25,100.10 L605.00,100.10 L605.00,102.84 L605.75,102.84 L605.75,105.06 L606.50,105.06 L606.50,105.81 L607.25,105.81 L607.25,105.38 L608.00,105.38 L608.00,104.60 L608.75,104.60 L608.75,104.39 L609.50,104.39 L609.50,103.81 L610.25,103.81 L610.25,104.32 L611.00,104.32 L611.00,104.04 L611.75,104.04 L611.75,102.93 L612.50,102.93 L612.50,103.69 L613.25,103.69 L613.25,104.36 L614.00,104.36 L614.00,104.66 L614.75,104.66 L614.75,104.04 L615.50,104.04 L615.50,103.55 L616.25,103.55 L616.25,104.22 L617.00,104.22 L617.00,105.16 L617.75,105.16 L617.75,104.66 L618.50,104.66 L618.50,102.84 L619.25,102.84 L619.25,101.21 L620.00,101.21 L620.00,101.51 L620.75,101.51 L620.75,100.11 L621.50,100.11 L621.50,100.45 L622.25,100.45 L622.25,98.48 L623.00,98.48 L623.00,97.23 L623.75,97.23 L623.75,98.80 L624.50,98.80 L624.50,100.25 L625.25,100.25 L625.25,102.45 L626.00,102.45 L626.00,101.88 L626.75,101.88 L626.75,101.95 L627.50,101.95 L627.50,101.29 L628.25,101.29 L628.25,101.13 L629.00,101.13 L629.00,98.37 L629.75,98.37 L629.75,97.23 L630.50,97.23 L630.50,100.57 L631.25,100.57 L631.25,101.57 L632.00,101.57 L632.00,102.23 L632.75,102.23 L632.75,100.43 L633.50,100.43 L633.50,97.85 L634.25,97.85 L634.25,98.01 L635.00,98.01 L635.00,98.38 L635.75,98.38 L635.75,98.66 L636.50,98.66 L636.50,100.60 L637.25,100.60 L637.25,101.72 L638.00,101.72 L638.00,102.29 L638.75,102.29 L638.75,101.35 L639.50,101.35 L639.50,101.83 L640.25,101.83 L640.25,102.21 L641.00,102.21 L641.00,102.64 L641.75,102.64 L641.75,103.27 L642.50,103.27 L642.50,103.45 L643.25,103.45 L643.25,102.82 L644.00,102.82 L644.00,102.93 L644.75,102.93 L644.75,102.64 L645.50,102.64 L645.50,103.24 L646.25,103.24 L646.25,103.60 L647.00,103.60 L647.00,103.48 L647.75,103.48 L647.75,104.15 L648.50,104.15 L648.50,103.50 L649.25,103.50 L649.25,104.13 L650.00,104.13 L650.00,104.50 L650.75,104.50 L650.75,103.99 L651.50,103.99 L651.50,102.92 L652.25,102.92 L652.25,101.78 L653.00,101.78 L653.00,101.06 L653.75,101.06 L653.75,99.43 L654.50,99.43 L654.50,97.21 L655.25,97.21 L655.25,97.14 L656.00,97.14 L656.00,97.82 L656.75,97.82 L656.75,98.68 L657.50,98.68 L657.50,100.85 L658.25,100.85 L658.25,100.08 L659.00,100.08 L659.00,99.10 L659.75,99.10 L659.75,97.28 L660.50,97.28 L660.50,98.40 L661.25,98.40 L661.25,96.43 L662.00,96.43 L662.00,96.86 L662.75,96.86 L662.75,97.67 L663.50,97.67 L663.50,99.20 L664.25,99.20 L664.25,97.36 L665.00,97.36 L665.00,97.88 L665.75,97.88 L665.75,98.35 L666.50,98.35 L666.50,100.87 L667.25,100.87 L667.25,102.46 L668.00,102.46 L668.00,102.75 L668.75,102.75 L668.75,101.04 L669.50,101.04 L669.50,101.41 L670.25,101.41 L670.25,99.93 L671.00,99.93 L671.00,98.64 L671.75,98.64 L671.75,97.50 L672.50,97.50 L672.50,98.98 L673.25,98.98 L673.25,99.64 L674.00,99.64 L674.00,97.11 L674.75,97.11 L674.75,99.17 L675.50,99.17 L675.50,96.47 L676.25,96.47 L676.25,97.41 L677.00,97.41 L677.00,98.73 L677.75,98.73 L677.75,98.68 L678.50,98.68 L678.50,97.87 L679.25,97.87 L679.25,99.65 L680.00,99.65 L680.00,101.60 L680.75,101.60 L680.75,102.95 L681.50,102.95 L681.50,104.15 L682.25,104.15 L682.25,104.66 L683.00,104.66 L683.00,106.06 L683.75,106.06 L683.75,106.79 L684.20,106.79 L684.20,108.72 Z" fill="#ff0000"/>
<line x1="546.50" y1="108.32" x2="684.20" y2="108.32" stroke="#ff0000" stroke-width="0.9" />
<text x="0" y="0" transform="translate(543.00,120.23) scale(0.9,1)" font-size="9.0" font-weight="bold" fill="#555555" text-anchor="end" >IgG</text>
<text x="0" y="0" transform="translate(548.80,114.83) scale(0.86,1)" font-size="6.6" fill="#333" text-anchor="start" >[0 - 4.75]</text>
<line x1="546.50" y1="124.43" x2="684.20" y2="124.43" stroke="#d4d4d4" stroke-width="1.0" />
<rect x="659.00" y="123.73" width="2.00" height="1.20" fill="#b0b0b0" />
<text x="0" y="0" transform="translate(543.00,136.44) scale(0.9,1)" font-size="9.0" font-weight="bold" fill="#109410" text-anchor="end" >H3K4me1 5mC%</text>
<text x="0" y="0" transform="translate(548.80,131.04) scale(0.86,1)" font-size="6.6" fill="#333" text-anchor="start" >[0 - 60]</text>
<line x1="546.50" y1="140.64" x2="684.20" y2="140.64" stroke="#50b050" stroke-width="1.0" />
<rect x="548.50" y="140.14" width="1.00" height="1.00" fill="#159915" />
<rect x="550.50" y="139.64" width="1.00" height="1.50" fill="#159915" />
<rect x="551.50" y="140.14" width="1.00" height="1.00" fill="#159915" />
<rect x="563.00" y="138.14" width="1.00" height="3.00" fill="#159915" />
<rect x="564.00" y="139.14" width="1.00" height="2.00" fill="#159915" />
<rect x="566.50" y="139.64" width="1.00" height="1.50" fill="#159915" />
<rect x="569.00" y="138.64" width="1.00" height="2.50" fill="#159915" />
<rect x="570.00" y="138.14" width="1.00" height="3.00" fill="#159915" />
<rect x="571.00" y="139.14" width="1.00" height="2.00" fill="#159915" />
<rect x="591.50" y="139.14" width="1.00" height="2.00" fill="#159915" />
<rect x="593.00" y="139.94" width="1.00" height="1.20" fill="#159915" />
<rect x="596.00" y="139.14" width="1.00" height="2.00" fill="#159915" />
<rect x="597.00" y="139.64" width="1.00" height="1.50" fill="#159915" />
<rect x="602.50" y="140.14" width="1.00" height="1.00" fill="#159915" />
<rect x="609.00" y="138.64" width="1.00" height="2.50" fill="#159915" />
<rect x="610.00" y="139.14" width="1.00" height="2.00" fill="#159915" />
<rect x="616.50" y="140.14" width="1.00" height="1.00" fill="#159915" />
<rect x="624.00" y="140.14" width="1.00" height="1.00" fill="#159915" />
<rect x="636.00" y="139.64" width="1.00" height="1.50" fill="#159915" />
<rect x="654.00" y="139.64" width="1.00" height="1.50" fill="#159915" />
<rect x="655.50" y="139.94" width="1.00" height="1.20" fill="#159915" />
<rect x="657.50" y="139.64" width="1.00" height="1.50" fill="#159915" />
<rect x="661.00" y="138.14" width="1.00" height="3.00" fill="#159915" />
<rect x="662.50" y="140.14" width="1.00" height="1.00" fill="#159915" />
<rect x="665.50" y="140.14" width="1.00" height="1.00" fill="#159915" />
<rect x="671.50" y="140.14" width="1.00" height="1.00" fill="#159915" />
<rect x="675.50" y="140.14" width="1.00" height="1.00" fill="#159915" />
<text x="0" y="0" transform="translate(543.00,152.65) scale(0.9,1)" font-size="9.0" font-weight="bold" fill="#2828d8" text-anchor="end" >H3K27ac 5mC%</text>
<text x="0" y="0" transform="translate(548.80,147.25) scale(0.86,1)" font-size="6.6" fill="#333" text-anchor="start" >[0 - 60]</text>
<line x1="546.50" y1="156.85" x2="684.20" y2="156.85" stroke="#5050f0" stroke-width="1.0" />
<text x="0" y="0" transform="translate(543.00,168.86) scale(0.9,1)" font-size="9.0" font-weight="bold" fill="#f01010" text-anchor="end" >H3K27me3 5mC%</text>
<text x="0" y="0" transform="translate(548.80,163.46) scale(0.86,1)" font-size="6.6" fill="#333" text-anchor="start" >[0 - 60]</text>
<line x1="546.50" y1="173.06" x2="684.20" y2="173.06" stroke="#f8a090" stroke-width="1.0" />
<rect x="546.50" y="165.56" width="1.00" height="8.00" fill="#ff1010" />
<rect x="547.50" y="165.56" width="1.00" height="8.00" fill="#ff1010" />
<rect x="548.50" y="166.56" width="1.00" height="7.00" fill="#ff1010" />
<rect x="549.50" y="168.56" width="1.00" height="5.00" fill="#ff1010" />
<rect x="552.00" y="170.56" width="1.00" height="3.00" fill="#ff1010" />
<rect x="553.00" y="169.56" width="1.00" height="4.00" fill="#ff1010" />
<rect x="554.50" y="171.06" width="1.00" height="2.50" fill="#ff1010" />
<rect x="555.50" y="170.56" width="1.00" height="3.00" fill="#ff1010" />
<rect x="557.50" y="172.56" width="1.00" height="1.00" fill="#ff1010" />
<rect x="561.50" y="172.56" width="1.00" height="1.00" fill="#ff1010" />
<rect x="563.00" y="171.56" width="1.00" height="2.00" fill="#ff1010" />
<rect x="564.50" y="171.56" width="1.00" height="2.00" fill="#ff1010" />
<rect x="566.00" y="170.56" width="1.00" height="3.00" fill="#ff1010" />
<rect x="568.00" y="167.56" width="1.00" height="6.00" fill="#ff1010" />
<rect x="569.00" y="168.56" width="1.00" height="5.00" fill="#ff1010" />
<rect x="570.50" y="166.56" width="1.00" height="7.00" fill="#ff1010" />
<rect x="571.50" y="166.56" width="1.00" height="7.00" fill="#ff1010" />
<rect x="572.50" y="166.06" width="1.00" height="7.50" fill="#ff1010" />
<rect x="574.00" y="165.56" width="1.00" height="8.00" fill="#ff1010" />
<rect x="575.00" y="165.56" width="1.00" height="8.00" fill="#ff1010" />
<rect x="576.00" y="165.56" width="1.00" height="8.00" fill="#ff1010" />
<rect x="583.55" y="160.56" width="0.90" height="13.00" fill="#ff1010" />
<rect x="589.50" y="172.56" width="1.00" height="1.00" fill="#ff1010" />
<rect x="591.50" y="171.56" width="1.00" height="2.00" fill="#ff1010" />
<rect x="592.50" y="172.06" width="1.00" height="1.50" fill="#ff1010" />
<rect x="594.00" y="171.56" width="1.00" height="2.00" fill="#ff1010" />
<rect x="595.50" y="170.56" width="1.00" height="3.00" fill="#ff1010" />
<rect x="596.50" y="169.56" width="1.00" height="4.00" fill="#ff1010" />
<rect x="597.50" y="170.56" width="1.00" height="3.00" fill="#ff1010" />
<rect x="601.50" y="172.06" width="1.00" height="1.50" fill="#ff1010" />
<rect x="603.50" y="171.56" width="1.00" height="2.00" fill="#ff1010" />
<rect x="605.50" y="171.56" width="1.00" height="2.00" fill="#ff1010" />
<rect x="606.50" y="168.56" width="1.00" height="5.00" fill="#ff1010" />
<rect x="607.50" y="170.56" width="1.00" height="3.00" fill="#ff1010" />
<rect x="609.00" y="170.56" width="1.00" height="3.00" fill="#ff1010" />
<rect x="610.50" y="171.06" width="1.00" height="2.50" fill="#ff1010" />
<rect x="612.00" y="172.06" width="1.00" height="1.50" fill="#ff1010" />
<rect x="613.50" y="172.56" width="1.00" height="1.00" fill="#ff1010" />
<rect x="624.50" y="172.56" width="1.00" height="1.00" fill="#ff1010" />
<rect x="635.50" y="172.06" width="1.00" height="1.50" fill="#ff1010" />
<rect x="642.00" y="165.56" width="1.00" height="8.00" fill="#ff1010" />
<rect x="645.00" y="165.56" width="1.00" height="8.00" fill="#ff1010" />
<rect x="647.50" y="169.56" width="1.00" height="4.00" fill="#ff1010" />
<rect x="649.50" y="169.56" width="1.00" height="4.00" fill="#ff1010" />
<rect x="655.50" y="172.06" width="1.00" height="1.50" fill="#ff1010" />
<rect x="657.50" y="170.56" width="1.00" height="3.00" fill="#ff1010" />
<rect x="659.00" y="171.06" width="1.00" height="2.50" fill="#ff1010" />
<rect x="660.50" y="172.06" width="1.00" height="1.50" fill="#ff1010" />
<rect x="663.50" y="172.56" width="1.00" height="1.00" fill="#ff1010" />
<rect x="666.00" y="172.06" width="1.00" height="1.50" fill="#ff1010" />
<rect x="674.00" y="171.56" width="1.00" height="2.00" fill="#ff1010" />
<rect x="675.00" y="171.56" width="1.00" height="2.00" fill="#ff1010" />
<rect x="679.00" y="166.56" width="1.00" height="7.00" fill="#ff1010" />
<text x="0" y="0" transform="translate(543.00,185.07) scale(0.9,1)" font-size="9.0" font-weight="bold" fill="#555555" text-anchor="end" >IgG 5mC%</text>
<text x="0" y="0" transform="translate(548.80,179.67) scale(0.86,1)" font-size="6.6" fill="#333" text-anchor="start" >[0 - 60]</text>
<line x1="546.50" y1="189.27" x2="684.20" y2="189.27" stroke="#cfcfcf" stroke-width="1.0" />
<rect x="658.70" y="176.77" width="1.80" height="13.00" fill="#909090" />
<text x="0" y="0" transform="translate(543.00,201.28) scale(0.9,1)" font-size="9.0" font-weight="bold" fill="#4aa84a" text-anchor="end" >H3K4me1 5hmC%</text>
<text x="0" y="0" transform="translate(548.80,195.88) scale(0.86,1)" font-size="6.6" fill="#333" text-anchor="start" >[0 - 16]</text>
<line x1="546.50" y1="205.48" x2="684.20" y2="205.48" stroke="#80c080" stroke-width="1.0" />
<rect x="551.05" y="200.98" width="0.90" height="5.00" fill="#3aa03a" />
<rect x="554.55" y="204.48" width="0.90" height="1.50" fill="#3aa03a" />
<rect x="556.55" y="203.98" width="0.90" height="2.00" fill="#3aa03a" />
<rect x="559.55" y="203.98" width="0.90" height="2.00" fill="#3aa03a" />
<rect x="561.05" y="202.98" width="0.90" height="3.00" fill="#3aa03a" />
<rect x="562.05" y="199.98" width="0.90" height="6.00" fill="#3aa03a" />
<rect x="563.55" y="204.98" width="0.90" height="1.00" fill="#3aa03a" />
<rect x="567.05" y="198.98" width="0.90" height="7.00" fill="#3aa03a" />
<rect x="570.55" y="195.98" width="0.90" height="10.00" fill="#3aa03a" />
<rect x="590.55" y="202.98" width="0.90" height="3.00" fill="#3aa03a" />
<rect x="592.05" y="201.98" width="0.90" height="4.00" fill="#3aa03a" />
<rect x="593.55" y="202.98" width="0.90" height="3.00" fill="#3aa03a" />
<rect x="594.55" y="200.98" width="0.90" height="5.00" fill="#3aa03a" />
<rect x="596.55" y="196.98" width="0.90" height="9.00" fill="#3aa03a" />
<rect x="599.55" y="202.98" width="0.90" height="3.00" fill="#3aa03a" />
<rect x="600.55" y="200.98" width="0.90" height="5.00" fill="#3aa03a" />
<rect x="603.05" y="195.98" width="0.90" height="10.00" fill="#3aa03a" />
<rect x="605.05" y="200.98" width="0.90" height="5.00" fill="#3aa03a" />
<rect x="609.55" y="197.48" width="0.90" height="8.50" fill="#3aa03a" />
<rect x="613.55" y="199.98" width="0.90" height="6.00" fill="#3aa03a" />
<rect x="619.55" y="203.98" width="0.90" height="2.00" fill="#3aa03a" />
<rect x="621.55" y="202.98" width="0.90" height="3.00" fill="#3aa03a" />
<rect x="623.55" y="203.48" width="0.90" height="2.50" fill="#3aa03a" />
<rect x="625.55" y="201.98" width="0.90" height="4.00" fill="#3aa03a" />
<rect x="627.55" y="202.98" width="0.90" height="3.00" fill="#3aa03a" />
<rect x="629.55" y="203.98" width="0.90" height="2.00" fill="#3aa03a" />
<rect x="632.05" y="200.98" width="0.90" height="5.00" fill="#3aa03a" />
<rect x="634.55" y="201.98" width="0.90" height="4.00" fill="#3aa03a" />
<rect x="654.05" y="199.98" width="0.90" height="6.00" fill="#3aa03a" />
<rect x="655.55" y="203.98" width="0.90" height="2.00" fill="#3aa03a" />
<rect x="657.55" y="202.98" width="0.90" height="3.00" fill="#3aa03a" />
<rect x="660.05" y="199.98" width="0.90" height="6.00" fill="#3aa03a" />
<rect x="661.55" y="202.98" width="0.90" height="3.00" fill="#3aa03a" />
<rect x="663.55" y="200.98" width="0.90" height="5.00" fill="#3aa03a" />
<rect x="665.05" y="199.98" width="0.90" height="6.00" fill="#3aa03a" />
<rect x="666.55" y="202.98" width="0.90" height="3.00" fill="#3aa03a" />
<rect x="668.05" y="200.98" width="0.90" height="5.00" fill="#3aa03a" />
<rect x="671.55" y="201.98" width="0.90" height="4.00" fill="#3aa03a" />
<rect x="675.05" y="199.98" width="0.90" height="6.00" fill="#3aa03a" />
<text x="0" y="0" transform="translate(543.00,217.49) scale(0.9,1)" font-size="9.0" font-weight="bold" fill="#5a5ae0" text-anchor="end" >H3K27ac 5hmC%</text>
<text x="0" y="0" transform="translate(548.80,212.09) scale(0.86,1)" font-size="6.6" fill="#333" text-anchor="start" >[0 - 16]</text>
<line x1="546.50" y1="221.69" x2="684.20" y2="221.69" stroke="#9090f0" stroke-width="1.0" />
<text x="0" y="0" transform="translate(543.00,233.70) scale(0.9,1)" font-size="9.0" font-weight="bold" fill="#f55555" text-anchor="end" >H3K27me3 5hmC%</text>
<text x="0" y="0" transform="translate(548.80,228.30) scale(0.86,1)" font-size="6.6" fill="#333" text-anchor="start" >[0 - 16]</text>
<line x1="546.50" y1="237.90" x2="684.20" y2="237.90" stroke="#f39a9a" stroke-width="1.0" />
<rect x="547.50" y="231.40" width="1.00" height="7.00" fill="#f03030" />
<rect x="548.50" y="235.40" width="1.00" height="3.00" fill="#f03030" />
<rect x="550.00" y="235.40" width="1.00" height="3.00" fill="#f03030" />
<rect x="552.50" y="231.40" width="1.00" height="7.00" fill="#f03030" />
<rect x="553.50" y="236.40" width="1.00" height="2.00" fill="#f03030" />
<rect x="555.50" y="235.90" width="1.00" height="2.50" fill="#f03030" />
<rect x="557.00" y="235.40" width="1.00" height="3.00" fill="#f03030" />
<rect x="560.50" y="236.40" width="1.00" height="2.00" fill="#f03030" />
<rect x="562.50" y="235.40" width="1.00" height="3.00" fill="#f03030" />
<rect x="564.50" y="236.40" width="1.00" height="2.00" fill="#f03030" />
<rect x="565.50" y="235.90" width="1.00" height="2.50" fill="#f03030" />
<rect x="567.50" y="231.40" width="1.00" height="7.00" fill="#f03030" />
<rect x="568.50" y="235.40" width="1.00" height="3.00" fill="#f03030" />
<rect x="570.50" y="229.40" width="1.00" height="9.00" fill="#f03030" />
<rect x="571.50" y="233.40" width="1.00" height="5.00" fill="#f03030" />
<rect x="573.00" y="232.40" width="1.00" height="6.00" fill="#f03030" />
<rect x="574.50" y="234.40" width="1.00" height="4.00" fill="#f03030" />
<rect x="576.00" y="233.40" width="1.00" height="5.00" fill="#f03030" />
<rect x="577.00" y="235.40" width="1.00" height="3.00" fill="#f03030" />
<rect x="588.50" y="236.40" width="1.00" height="2.00" fill="#f03030" />
<rect x="590.50" y="235.90" width="1.00" height="2.50" fill="#f03030" />
<rect x="592.50" y="235.40" width="1.00" height="3.00" fill="#f03030" />
<rect x="594.50" y="235.90" width="1.00" height="2.50" fill="#f03030" />
<rect x="596.50" y="234.90" width="1.00" height="3.50" fill="#f03030" />
<rect x="598.50" y="235.40" width="1.00" height="3.00" fill="#f03030" />
<rect x="600.50" y="234.40" width="1.00" height="4.00" fill="#f03030" />
<rect x="602.00" y="235.40" width="1.00" height="3.00" fill="#f03030" />
<rect x="603.50" y="234.40" width="1.00" height="4.00" fill="#f03030" />
<rect x="605.50" y="236.40" width="1.00" height="2.00" fill="#f03030" />
<rect x="606.50" y="231.40" width="1.00" height="7.00" fill="#f03030" />
<rect x="608.00" y="235.40" width="1.00" height="3.00" fill="#f03030" />
<rect x="609.50" y="235.40" width="1.00" height="3.00" fill="#f03030" />
<rect x="611.00" y="236.40" width="1.00" height="2.00" fill="#f03030" />
<rect x="616.50" y="237.40" width="1.00" height="1.00" fill="#f03030" />
<rect x="618.50" y="236.90" width="1.00" height="1.50" fill="#f03030" />
<rect x="620.50" y="237.40" width="1.00" height="1.00" fill="#f03030" />
<rect x="622.50" y="237.40" width="1.00" height="1.00" fill="#f03030" />
<rect x="629.50" y="236.90" width="1.00" height="1.50" fill="#f03030" />
<rect x="631.50" y="235.40" width="1.00" height="3.00" fill="#f03030" />
<rect x="633.50" y="233.40" width="1.00" height="5.00" fill="#f03030" />
<rect x="635.50" y="236.40" width="1.00" height="2.00" fill="#f03030" />
<rect x="642.00" y="231.40" width="1.00" height="7.00" fill="#f03030" />
<rect x="643.50" y="236.40" width="1.00" height="2.00" fill="#f03030" />
<rect x="648.00" y="234.40" width="1.00" height="4.00" fill="#f03030" />
<rect x="650.50" y="237.40" width="1.00" height="1.00" fill="#f03030" />
<rect x="654.00" y="231.40" width="1.00" height="7.00" fill="#f03030" />
<rect x="656.50" y="235.40" width="1.00" height="3.00" fill="#f03030" />
<rect x="658.00" y="233.40" width="1.00" height="5.00" fill="#f03030" />
<rect x="659.50" y="232.40" width="1.00" height="6.00" fill="#f03030" />
<rect x="660.50" y="235.40" width="1.00" height="3.00" fill="#f03030" />
<rect x="665.50" y="233.40" width="1.00" height="5.00" fill="#f03030" />
<rect x="668.50" y="236.90" width="1.00" height="1.50" fill="#f03030" />
<rect x="670.50" y="236.40" width="1.00" height="2.00" fill="#f03030" />
<rect x="673.50" y="235.40" width="1.00" height="3.00" fill="#f03030" />
<rect x="675.00" y="235.90" width="1.00" height="2.50" fill="#f03030" />
<rect x="679.00" y="225.40" width="1.00" height="13.00" fill="#f03030" />
<text x="0" y="0" transform="translate(543.00,249.91) scale(0.9,1)" font-size="9.0" font-weight="bold" fill="#999999" text-anchor="end" >IgG 5hmC%</text>
<text x="0" y="0" transform="translate(548.80,244.51) scale(0.86,1)" font-size="6.6" fill="#333" text-anchor="start" >[0 - 16]</text>
<line x1="546.50" y1="254.11" x2="684.20" y2="254.11" stroke="#cfcfcf" stroke-width="1.0" />
<rect x="586.70" y="62.90" width="9.40" height="196.80" fill="#f03232" fill-opacity="0.2"/>
<rect x="587.00" y="259.80" width="8.80" height="4.00" fill="#ff0000" />
<text x="0" y="0" transform="translate(543.00,265.50) scale(0.9,1)" font-size="9.0" font-weight="bold" fill="#f01010" text-anchor="end" >Enhancer</text>
</g>
<g font-family='"Liberation Sans", sans-serif'>
<text x="0.60" y="297.70" font-size="16" font-weight="bold" fill="#000" text-anchor="start" >b</text>
<text x="276.00" y="297.70" font-size="16" font-weight="bold" fill="#000" text-anchor="start" >c</text>
<text x="509.00" y="297.70" font-size="16" font-weight="bold" fill="#000" text-anchor="start" >d</text>
<rect x="69.00" y="319.80" width="14.90" height="99.70" fill="#d4d4d4" stroke="#9a9a9a" stroke-width="1.6"/>
<rect x="69.00" y="420.30" width="14.90" height="9.70" fill="#fed37c" stroke="#bdbdbd" stroke-width="1.6"/>
<rect x="69.15" y="430.95" width="14.60" height="21.50" fill="#f28e36" stroke="#000" stroke-width="1.9"/>
<rect x="94.70" y="319.80" width="14.90" height="111.30" fill="#d4d4d4" stroke="#9a9a9a" stroke-width="1.6"/>
<rect x="94.70" y="431.90" width="14.90" height="8.10" fill="#fed37c" stroke="#bdbdbd" stroke-width="1.6"/>
<rect x="94.85" y="440.95" width="14.60" height="11.50" fill="#f28e36" stroke="#000" stroke-width="1.9"/>
<rect x="120.05" y="319.80" width="14.90" height="43.10" fill="#d4d4d4" stroke="#9a9a9a" stroke-width="1.6"/>
<rect x="120.05" y="363.70" width="14.90" height="22.60" fill="#fed37c" stroke="#bdbdbd" stroke-width="1.6"/>
<rect x="120.20" y="387.25" width="14.60" height="65.20" fill="#f28e36" stroke="#000" stroke-width="1.9"/>
<rect x="145.80" y="319.80" width="14.90" height="107.20" fill="#d4d4d4" stroke="#9a9a9a" stroke-width="1.6"/>
<rect x="145.80" y="427.80" width="14.90" height="7.40" fill="#fed37c" stroke="#bdbdbd" stroke-width="1.6"/>
<rect x="145.95" y="436.15" width="14.60" height="16.30" fill="#f28e36" stroke="#000" stroke-width="1.9"/>
<rect x="171.15" y="319.80" width="14.90" height="119.80" fill="#d4d4d4" stroke="#9a9a9a" stroke-width="1.6"/>
<rect x="171.15" y="440.40" width="14.90" height="4.70" fill="#fed37c" stroke="#bdbdbd" stroke-width="1.6"/>
<rect x="171.30" y="446.05" width="14.60" height="6.40" fill="#f28e36" stroke="#000" stroke-width="1.9"/>
<rect x="71.45" y="317.5" width="10" height="2.6" fill="#000" rx="0.8"/>
<rect x="97.15" y="317.5" width="10" height="2.6" fill="#000" rx="0.8"/>
<rect x="122.50" y="317.5" width="10" height="2.6" fill="#000" rx="0.8"/>
<rect x="148.25" y="317.5" width="10" height="2.6" fill="#000" rx="0.8"/>
<line x1="76.45" y1="428.00" x2="76.45" y2="431.70" stroke="#000" stroke-width="2.2" />
<line x1="71.45" y1="428.00" x2="81.45" y2="428.00" stroke="#000" stroke-width="2.2" />
<line x1="71.45" y1="431.70" x2="81.45" y2="431.70" stroke="#000" stroke-width="2.2" />
<rect x="71.45" y="416.9" width="10" height="3.0" fill="#000" rx="0.8"/>
<line x1="102.15" y1="429.10" x2="102.15" y2="432.10" stroke="#000" stroke-width="2.2" />
<line x1="97.15" y1="429.10" x2="107.15" y2="429.10" stroke="#000" stroke-width="2.2" />
<line x1="97.15" y1="432.10" x2="107.15" y2="432.10" stroke="#000" stroke-width="2.2" />
<line x1="102.15" y1="436.70" x2="102.15" y2="441.60" stroke="#000" stroke-width="2.2" />
<line x1="97.15" y1="436.70" x2="107.15" y2="436.70" stroke="#000" stroke-width="2.2" />
<line x1="97.15" y1="441.60" x2="107.15" y2="441.60" stroke="#000" stroke-width="2.2" />
<line x1="127.50" y1="359.90" x2="127.50" y2="363.80" stroke="#000" stroke-width="2.2" />
<line x1="122.50" y1="359.90" x2="132.50" y2="359.90" stroke="#000" stroke-width="2.2" />
<line x1="122.50" y1="363.80" x2="132.50" y2="363.80" stroke="#000" stroke-width="2.2" />
<line x1="127.50" y1="381.00" x2="127.50" y2="389.90" stroke="#000" stroke-width="2.2" />
<line x1="122.50" y1="381.00" x2="132.50" y2="381.00" stroke="#000" stroke-width="2.2" />
<line x1="122.50" y1="389.90" x2="132.50" y2="389.90" stroke="#000" stroke-width="2.2" />
<line x1="153.25" y1="431.70" x2="153.25" y2="437.20" stroke="#000" stroke-width="2.2" />
<line x1="148.25" y1="431.70" x2="158.25" y2="431.70" stroke="#000" stroke-width="2.2" />
<line x1="148.25" y1="437.20" x2="158.25" y2="437.20" stroke="#000" stroke-width="2.2" />
<rect x="148.25" y="424.2" width="10" height="3.1" fill="#000" rx="0.8"/>
<path d="M51.70,318.5 H59.5 V329.7 M54.60,329.7 H63.90" stroke="#000" stroke-width="1.9" fill="none" />
<path d="M54.60,341.0 H63.90 M59.5,341.0 V454.2" stroke="#000" stroke-width="1.9" fill="none" />
<path d="M53.0,453.4 H195.4" stroke="#000" stroke-width="1.9" fill="none" />
<line x1="53.00" y1="369.02" x2="59.50" y2="369.02" stroke="#000" stroke-width="1.8" />
<line x1="53.00" y1="397.15" x2="59.50" y2="397.15" stroke="#000" stroke-width="1.8" />
<line x1="53.00" y1="425.27" x2="59.50" y2="425.27" stroke="#000" stroke-width="1.8" />
<line x1="53.00" y1="453.40" x2="59.50" y2="453.40" stroke="#000" stroke-width="1.8" />
<line x1="76.45" y1="453.40" x2="76.45" y2="459.40" stroke="#000" stroke-width="1.8" />
<line x1="102.15" y1="453.40" x2="102.15" y2="459.40" stroke="#000" stroke-width="1.8" />
<line x1="127.50" y1="453.40" x2="127.50" y2="459.40" stroke="#000" stroke-width="1.8" />
<line x1="153.25" y1="453.40" x2="153.25" y2="459.40" stroke="#000" stroke-width="1.8" />
<line x1="178.60" y1="453.40" x2="178.60" y2="459.40" stroke="#000" stroke-width="1.8" />
<text x="48.00" y="321.80" font-size="9" fill="#111" text-anchor="end" >100</text>
<text x="48.00" y="333.00" font-size="9" fill="#111" text-anchor="end" >50</text>
<text x="48.00" y="344.30" font-size="9" fill="#111" text-anchor="end" >20</text>
<text x="48.00" y="372.32" font-size="9" fill="#111" text-anchor="end" >15</text>
<text x="48.00" y="400.45" font-size="9" fill="#111" text-anchor="end" >10</text>
<text x="48.00" y="428.57" font-size="9" fill="#111" text-anchor="end" >5</text>
<text x="48.00" y="456.70" font-size="9" fill="#111" text-anchor="end" >0</text>
<text x="0" y="0" font-size="9.2" fill="#111" text-anchor="middle" transform="translate(20.00,402.50) rotate(-90)">% CpG methylation state</text>
<text x="0" y="0" font-size="9.6" fill="#111" text-anchor="end" transform="translate(85.45,470.20) rotate(-45)">H3K4me1 - active</text>
<text x="0" y="0" font-size="9.6" fill="#111" text-anchor="end" transform="translate(111.15,470.20) rotate(-45)">H3K27ac - active</text>
<text x="0" y="0" font-size="9.6" fill="#111" text-anchor="end" transform="translate(136.50,470.20) rotate(-45)">H3K4me1 - primed</text>
<text x="0" y="0" font-size="9.6" fill="#111" text-anchor="end" transform="translate(162.25,470.20) rotate(-45)">H3K4me1 - poised</text>
<text x="0" y="0" font-size="9.6" fill="#111" text-anchor="end" transform="translate(187.60,470.20) rotate(-45)">H3K27me3 - poised</text>
<rect x="210.95" y="322.35" width="15.10" height="8.30" fill="#f28e36" stroke="#000" stroke-width="1.9"/>
<rect x="210.95" y="341.45" width="15.10" height="8.40" fill="#fed37c" stroke="#bdbdbd" stroke-width="1.9"/>
<rect x="210.95" y="361.05" width="15.10" height="8.00" fill="#d4d4d4" stroke="#9a9a9a" stroke-width="1.9"/>
<text x="234.40" y="330.20" font-size="9.2" fill="#111" text-anchor="start" >5mC</text>
<text x="234.40" y="349.80" font-size="9.2" fill="#111" text-anchor="start" >5hmC</text>
<text x="234.40" y="369.30" font-size="9.2" fill="#111" text-anchor="start" >C</text>
<rect x="69.75" y="557.80" width="14.90" height="41.60" fill="#fed37c" stroke="#bdbdbd" stroke-width="1.6"/>
<rect x="69.90" y="600.35" width="14.60" height="82.40" fill="#f28e36" stroke="#000" stroke-width="1.9"/>
<rect x="95.15" y="557.80" width="14.90" height="48.60" fill="#fed37c" stroke="#bdbdbd" stroke-width="1.6"/>
<rect x="95.30" y="607.35" width="14.60" height="75.40" fill="#f28e36" stroke="#000" stroke-width="1.9"/>
<rect x="121.00" y="557.80" width="14.90" height="32.20" fill="#fed37c" stroke="#bdbdbd" stroke-width="1.6"/>
<rect x="121.15" y="590.95" width="14.60" height="91.80" fill="#f28e36" stroke="#000" stroke-width="1.9"/>
<rect x="146.70" y="557.80" width="14.90" height="39.80" fill="#fed37c" stroke="#bdbdbd" stroke-width="1.6"/>
<rect x="146.85" y="598.55" width="14.60" height="84.20" fill="#f28e36" stroke="#000" stroke-width="1.9"/>
<rect x="172.35" y="557.80" width="14.90" height="53.20" fill="#fed37c" stroke="#bdbdbd" stroke-width="1.6"/>
<rect x="172.50" y="611.95" width="14.60" height="70.80" fill="#f28e36" stroke="#000" stroke-width="1.9"/>
<line x1="77.20" y1="555.20" x2="77.20" y2="558.40" stroke="#000" stroke-width="2.2" />
<line x1="72.20" y1="555.20" x2="82.20" y2="555.20" stroke="#000" stroke-width="2.2" />
<line x1="72.20" y1="558.40" x2="82.20" y2="558.40" stroke="#000" stroke-width="2.2" />
<line x1="77.20" y1="597.60" x2="77.20" y2="600.40" stroke="#000" stroke-width="2.2" />
<line x1="72.20" y1="597.60" x2="82.20" y2="597.60" stroke="#000" stroke-width="2.2" />
<line x1="72.20" y1="600.40" x2="82.20" y2="600.40" stroke="#000" stroke-width="2.2" />
<rect x="97.60" y="555.2" width="10" height="3.2" fill="#000" rx="0.8"/>
<rect x="97.60" y="604.5" width="10" height="2.6" fill="#000" rx="0.8"/>
<line x1="128.45" y1="555.30" x2="128.45" y2="558.40" stroke="#000" stroke-width="2.2" />
<line x1="123.45" y1="555.30" x2="133.45" y2="555.30" stroke="#000" stroke-width="2.2" />
<line x1="123.45" y1="558.40" x2="133.45" y2="558.40" stroke="#000" stroke-width="2.2" />
<line x1="128.45" y1="588.20" x2="128.45" y2="591.10" stroke="#000" stroke-width="2.2" />
<line x1="123.45" y1="588.20" x2="133.45" y2="588.20" stroke="#000" stroke-width="2.2" />
<line x1="123.45" y1="591.10" x2="133.45" y2="591.10" stroke="#000" stroke-width="2.2" />
<line x1="154.15" y1="551.70" x2="154.15" y2="562.50" stroke="#000" stroke-width="2.2" />
<line x1="149.15" y1="551.70" x2="159.15" y2="551.70" stroke="#000" stroke-width="2.2" />
<line x1="149.15" y1="562.50" x2="159.15" y2="562.50" stroke="#000" stroke-width="2.2" />
<line x1="154.15" y1="592.00" x2="154.15" y2="602.80" stroke="#000" stroke-width="2.2" />
<line x1="149.15" y1="592.00" x2="159.15" y2="592.00" stroke="#000" stroke-width="2.2" />
<line x1="149.15" y1="602.80" x2="159.15" y2="602.80" stroke="#000" stroke-width="2.2" />
<path d="M60.0,547.0 V684.5 M54.0,683.7 H196.7" stroke="#000" stroke-width="2.0" fill="none" />
<line x1="54.00" y1="557.00" x2="60.00" y2="557.00" stroke="#000" stroke-width="1.9" />
<text x="50.20" y="560.40" font-size="9" fill="#111" text-anchor="end" >100</text>
<line x1="54.00" y1="588.68" x2="60.00" y2="588.68" stroke="#000" stroke-width="1.9" />
<text x="50.20" y="592.08" font-size="9" fill="#111" text-anchor="end" >75</text>
<line x1="54.00" y1="620.35" x2="60.00" y2="620.35" stroke="#000" stroke-width="1.9" />
<text x="50.20" y="623.75" font-size="9" fill="#111" text-anchor="end" >50</text>
<line x1="54.00" y1="652.03" x2="60.00" y2="652.03" stroke="#000" stroke-width="1.9" />
<text x="50.20" y="655.43" font-size="9" fill="#111" text-anchor="end" >25</text>
<line x1="54.00" y1="683.70" x2="60.00" y2="683.70" stroke="#000" stroke-width="1.9" />
<text x="50.20" y="687.10" font-size="9" fill="#111" text-anchor="end" >0</text>
<line x1="77.20" y1="683.70" x2="77.20" y2="689.60" stroke="#000" stroke-width="1.9" />
<line x1="102.60" y1="683.70" x2="102.60" y2="689.60" stroke="#000" stroke-width="1.9" />
<line x1="128.45" y1="683.70" x2="128.45" y2="689.60" stroke="#000" stroke-width="1.9" />
<line x1="154.15" y1="683.70" x2="154.15" y2="689.60" stroke="#000" stroke-width="1.9" />
<line x1="179.80" y1="683.70" x2="179.80" y2="689.60" stroke="#000" stroke-width="1.9" />
<text x="0" y="0" font-size="9.2" fill="#111" text-anchor="middle" transform="translate(23.80,620.60) rotate(-90)">% CpG methylation state</text>
<text x="0" y="0" font-size="9.6" fill="#111" text-anchor="end" transform="translate(84.60,699.20) rotate(-45)">H3K4me1 - active</text>
<text x="0" y="0" font-size="9.6" fill="#111" text-anchor="end" transform="translate(110.00,699.20) rotate(-45)">H3K27ac - active</text>
<text x="0" y="0" font-size="9.6" fill="#111" text-anchor="end" transform="translate(135.85,699.20) rotate(-45)">H3K4me1 - primed</text>
<text x="0" y="0" font-size="9.6" fill="#111" text-anchor="end" transform="translate(161.55,699.20) rotate(-45)">H3K4me1 - poised</text>
<text x="0" y="0" font-size="9.6" fill="#111" text-anchor="end" transform="translate(187.20,699.20) rotate(-45)">H3K27me3 - poised</text>
<rect x="210.45" y="552.45" width="14.60" height="7.60" fill="#f28e36" stroke="#000" stroke-width="1.9"/>
<rect x="210.45" y="571.65" width="14.60" height="7.50" fill="#fed37c" stroke="#bdbdbd" stroke-width="1.9"/>
<text x="233.20" y="560.20" font-size="9.2" fill="#111" text-anchor="start" >5mC</text>
<text x="233.20" y="579.50" font-size="9.2" fill="#111" text-anchor="start" >5hmC</text>
<text x="402.00" y="325.40" font-size="9.8" font-weight="bold" fill="#111" text-anchor="middle" letter-spacing="0.5">Primed enhancers - H3K27ac</text>
<path d="M311.50,410.92 L313.25,411.49 L315.00,411.91 L316.50,411.92 L318.00,412.49 L320.00,412.79 L322.00,413.72 L324.50,413.23 L327.30,411.75 L329.15,411.97 L331.00,412.35 L332.67,413.09 L334.33,413.96 L336.00,414.20 L338.00,414.80 L340.00,414.62 L341.50,415.39 L343.00,416.02 L344.50,416.08 L346.00,417.01 L348.00,417.39 L350.00,418.89 L351.50,419.00 L353.00,419.79 L355.00,420.57 L357.00,421.24 L358.50,421.24 L360.00,421.77 L362.00,422.53 L364.00,422.24 L365.50,422.80 L367.00,422.97 L369.30,422.48 L372.00,421.80 L374.60,419.66 L377.00,416.71 L379.90,413.13 L381.60,410.61 L383.50,406.98 L385.10,402.96 L388.00,392.63 L390.40,382.19 L393.00,368.17 L395.60,353.92 L397.50,345.59 L399.10,340.13 L400.50,338.91 L402.00,341.98 L404.50,350.69 L406.00,358.75 L408.00,368.27 L410.00,377.42 L411.50,385.00 L413.00,392.76 L415.00,399.05 L417.00,405.42 L418.50,410.20 L421.00,413.86 L423.80,416.70 L426.00,418.99 L427.50,419.93 L429.00,420.92 L430.80,421.95 L432.60,422.37 L434.30,422.09 L436.00,422.30 L437.80,421.93 L439.60,422.32 L441.30,422.39 L443.00,422.69 L444.80,422.09 L446.60,421.80 L448.30,421.03 L450.00,420.16 L451.50,420.09 L453.00,418.97 L455.30,417.82 L457.15,417.42 L459.00,416.65 L460.67,416.50 L462.33,415.71 L464.00,415.14 L465.50,415.44 L467.00,415.52 L469.00,414.74 L471.00,413.88 L473.00,414.35 L475.00,415.10 L476.50,414.81 L478.00,415.22 L479.80,414.36 L481.60,413.17 L484.00,413.93 L486.90,414.38 L489.50,412.44" fill="none" stroke="#2233dd" stroke-width="2.3" stroke-linejoin="round"/>
<rect x="311.50" y="335.80" width="178.00" height="90.70" fill="none" stroke="#111" stroke-width="1.4"/>
<line x1="311.50" y1="426.50" x2="489.50" y2="426.50" stroke="#111" stroke-width="2.0" />
<line x1="309.00" y1="355.10" x2="311.50" y2="355.10" stroke="#111" stroke-width="1.3" />
<text x="307.35" y="357.60" font-size="7.2" fill="#222" text-anchor="end" letter-spacing="0.55">0.16</text>
<line x1="309.00" y1="378.60" x2="311.50" y2="378.60" stroke="#111" stroke-width="1.3" />
<text x="307.35" y="381.10" font-size="7.2" fill="#222" text-anchor="end" letter-spacing="0.55">0.14</text>
<line x1="309.00" y1="402.10" x2="311.50" y2="402.10" stroke="#111" stroke-width="1.3" />
<text x="307.35" y="404.60" font-size="7.2" fill="#222" text-anchor="end" letter-spacing="0.55">0.12</text>
<line x1="309.00" y1="425.60" x2="311.50" y2="425.60" stroke="#111" stroke-width="1.3" />
<text x="307.35" y="428.10" font-size="7.2" fill="#222" text-anchor="end" letter-spacing="0.55">0.10</text>
<line x1="311.50" y1="426.50" x2="311.50" y2="429.30" stroke="#111" stroke-width="1.3" />
<line x1="400.50" y1="426.50" x2="400.50" y2="429.30" stroke="#111" stroke-width="1.3" />
<line x1="489.50" y1="426.50" x2="489.50" y2="429.30" stroke="#111" stroke-width="1.3" />
<text x="311.50" y="437.00" font-size="7" fill="#222" letter-spacing="0.4">-6.0</text>
<text x="400.50" y="437.00" font-size="7" fill="#222" text-anchor="middle" letter-spacing="0.4">centre</text>
<text x="490.00" y="437.00" font-size="7" fill="#222" text-anchor="end" letter-spacing="0.4">6.0Kb</text>
<line x1="421.20" y1="350.00" x2="434.00" y2="350.00" stroke="#2233dd" stroke-width="2.4" />
<text x="437.80" y="352.30" font-size="7.4" font-weight="bold" fill="#2233dd">H3K27ac</text>
<text x="400.20" y="472.80" font-size="9.8" font-weight="bold" fill="#111" text-anchor="middle" letter-spacing="0.5">Primed enhancers - H3K4me1</text>
<path d="M310.60,560.32 L312.80,560.04 L315.00,560.67 L316.67,560.77 L318.33,560.67 L320.00,560.78 L321.50,560.86 L323.00,560.80 L324.50,560.93 L326.00,561.10 L328.00,561.28 L330.00,561.72 L331.67,562.27 L333.33,562.86 L335.00,563.57 L336.67,563.65 L338.33,564.38 L340.00,564.43 L341.67,565.02 L343.33,565.12 L345.00,565.51 L347.00,566.15 L349.00,566.93 L351.00,567.40 L353.00,567.92 L355.00,568.55 L357.00,569.05 L358.50,568.85 L360.00,568.55 L361.50,568.78 L363.00,568.66 L364.50,568.62 L366.00,568.41 L367.50,567.60 L369.00,566.91 L370.50,565.72 L372.00,564.86 L373.50,563.07 L375.00,561.41 L376.50,558.73 L378.00,556.52 L379.50,551.87 L381.00,547.17 L382.50,540.06 L384.00,533.31 L385.50,525.13 L387.00,517.35 L388.50,510.47 L390.00,503.23 L391.50,497.82 L393.00,492.14 L395.50,487.77 L398.00,486.30 L400.00,486.51 L402.00,489.35 L404.00,495.50 L406.00,506.03 L408.00,518.21 L410.00,530.14 L412.00,540.88 L414.00,549.17 L416.00,555.04 L418.00,559.39 L419.50,561.16 L421.00,563.20 L422.50,564.77 L424.00,566.38 L425.50,567.23 L427.00,568.08 L428.50,568.47 L430.00,568.88 L431.50,568.83 L433.00,568.20 L434.50,569.01 L436.00,569.28 L437.50,568.24 L439.00,567.33 L440.50,567.25 L442.00,566.58 L444.00,566.03 L446.00,565.97 L448.00,565.71 L450.00,565.21 L451.67,565.02 L453.33,564.33 L455.00,564.01 L456.67,564.03 L458.33,563.81 L460.00,563.56 L461.67,563.73 L463.33,563.22 L465.00,563.25 L466.67,562.99 L468.33,563.32 L470.00,563.02 L471.67,563.02 L473.33,563.03 L475.00,562.96 L476.67,562.76 L478.33,562.95 L480.00,562.82 L481.80,562.49 L483.60,562.19 L485.40,562.20 L487.20,562.13" fill="none" stroke="#119911" stroke-width="2.3" stroke-linejoin="round"/>
<rect x="310.60" y="482.60" width="176.60" height="90.60" fill="none" stroke="#111" stroke-width="1.4"/>
<line x1="310.60" y1="573.20" x2="487.20" y2="573.20" stroke="#111" stroke-width="2.0" />
<line x1="308.10" y1="489.40" x2="310.60" y2="489.40" stroke="#111" stroke-width="1.3" />
<text x="306.45" y="491.90" font-size="7.2" fill="#222" text-anchor="end" letter-spacing="0.55">0.35</text>
<line x1="308.10" y1="508.00" x2="310.60" y2="508.00" stroke="#111" stroke-width="1.3" />
<text x="306.45" y="510.50" font-size="7.2" fill="#222" text-anchor="end" letter-spacing="0.55">0.30</text>
<line x1="308.10" y1="526.60" x2="310.60" y2="526.60" stroke="#111" stroke-width="1.3" />
<text x="306.45" y="529.10" font-size="7.2" fill="#222" text-anchor="end" letter-spacing="0.55">0.25</text>
<line x1="308.10" y1="545.20" x2="310.60" y2="545.20" stroke="#111" stroke-width="1.3" />
<text x="306.45" y="547.70" font-size="7.2" fill="#222" text-anchor="end" letter-spacing="0.55">0.20</text>
<line x1="308.10" y1="563.80" x2="310.60" y2="563.80" stroke="#111" stroke-width="1.3" />
<text x="306.45" y="566.30" font-size="7.2" fill="#222" text-anchor="end" letter-spacing="0.55">0.15</text>
<line x1="310.60" y1="573.20" x2="310.60" y2="576.00" stroke="#111" stroke-width="1.3" />
<line x1="398.90" y1="573.20" x2="398.90" y2="576.00" stroke="#111" stroke-width="1.3" />
<line x1="487.20" y1="573.20" x2="487.20" y2="576.00" stroke="#111" stroke-width="1.3" />
<text x="310.60" y="583.40" font-size="7" fill="#222" letter-spacing="0.4">-6.0</text>
<text x="398.90" y="583.40" font-size="7" fill="#222" text-anchor="middle" letter-spacing="0.4">centre</text>
<text x="487.70" y="583.40" font-size="7" fill="#222" text-anchor="end" letter-spacing="0.4">6.0Kb</text>
<line x1="420.50" y1="497.70" x2="433.00" y2="497.70" stroke="#119911" stroke-width="2.4" />
<text x="436.90" y="500.00" font-size="7.4" font-weight="bold" fill="#119911">H3K4me1</text>
<text x="402.10" y="616.00" font-size="9.8" font-weight="bold" fill="#111" text-anchor="middle" letter-spacing="0.5">Primed enhancers - H3K27me3</text>
<path d="M311.10,674.74 L312.50,678.52 L314.00,680.28 L316.00,679.02 L318.00,679.78 L320.00,681.54 L322.00,680.54 L324.00,682.05 L325.50,681.80 L327.00,681.54 L328.50,682.30 L330.00,683.06 L332.00,685.58 L334.00,688.60 L336.00,687.34 L338.00,688.60 L340.00,693.64 L342.00,692.38 L343.50,693.64 L345.00,694.90 L346.50,695.15 L348.00,695.40 L350.00,698.68 L352.00,702.46 L354.00,701.20 L355.50,701.45 L357.00,701.70 L358.50,702.71 L360.00,703.72 L362.00,707.50 L364.00,705.74 L366.00,706.74 L367.50,707.12 L369.00,707.50 L370.50,707.88 L372.00,708.26 L374.00,708.26 L376.00,708.26 L378.00,706.74 L380.00,702.46 L382.00,698.68 L384.00,696.92 L386.00,695.66 L388.00,686.08 L390.00,673.48 L392.00,663.40 L394.00,648.28 L396.00,636.94 L397.50,630.64 L398.50,629.38 L400.00,633.16 L402.00,643.24 L404.00,655.84 L406.00,670.96 L408.00,683.56 L410.00,692.38 L412.00,695.66 L414.00,699.94 L416.00,703.72 L418.00,703.47 L420.00,705.74 L422.00,708.00 L424.00,706.24 L426.00,707.25 L428.00,706.24 L430.00,707.50 L432.00,706.74 L434.00,708.76 L436.00,709.77 L438.00,703.72 L440.00,701.70 L442.00,703.22 L444.00,698.68 L446.00,696.92 L448.00,696.16 L450.00,695.66 L452.00,692.88 L454.00,693.64 L456.00,691.12 L458.00,687.34 L460.00,687.84 L462.00,687.34 L464.00,684.82 L466.00,687.34 L468.00,688.60 L470.00,686.08 L472.00,686.58 L474.00,684.06 L476.00,684.82 L478.00,683.06 L480.00,682.30 L482.00,677.26 L484.00,681.54 L485.80,681.04" fill="none" stroke="#e03a3a" stroke-width="2.3" stroke-linejoin="round"/>
<rect x="311.10" y="625.80" width="174.70" height="88.90" fill="none" stroke="#111" stroke-width="1.4"/>
<line x1="311.10" y1="714.70" x2="485.80" y2="714.70" stroke="#111" stroke-width="2.0" />
<line x1="308.60" y1="638.20" x2="311.10" y2="638.20" stroke="#111" stroke-width="1.3" />
<text x="306.95" y="640.70" font-size="7.2" fill="#222" text-anchor="end" letter-spacing="0.55">0.09</text>
<line x1="308.60" y1="663.40" x2="311.10" y2="663.40" stroke="#111" stroke-width="1.3" />
<text x="306.95" y="665.90" font-size="7.2" fill="#222" text-anchor="end" letter-spacing="0.55">0.08</text>
<line x1="308.60" y1="688.60" x2="311.10" y2="688.60" stroke="#111" stroke-width="1.3" />
<text x="306.95" y="691.10" font-size="7.2" fill="#222" text-anchor="end" letter-spacing="0.55">0.07</text>
<line x1="308.60" y1="713.80" x2="311.10" y2="713.80" stroke="#111" stroke-width="1.3" />
<text x="306.95" y="716.30" font-size="7.2" fill="#222" text-anchor="end" letter-spacing="0.55">0.06</text>
<line x1="311.10" y1="714.70" x2="311.10" y2="717.50" stroke="#111" stroke-width="1.3" />
<line x1="398.45" y1="714.70" x2="398.45" y2="717.50" stroke="#111" stroke-width="1.3" />
<line x1="485.80" y1="714.70" x2="485.80" y2="717.50" stroke="#111" stroke-width="1.3" />
<text x="311.10" y="724.40" font-size="7" fill="#222" letter-spacing="0.4">-6.0</text>
<text x="398.45" y="724.40" font-size="7" fill="#222" text-anchor="middle" letter-spacing="0.4">centre</text>
<text x="486.30" y="724.40" font-size="7" fill="#222" text-anchor="end" letter-spacing="0.4">6.0Kb</text>
<line x1="416.10" y1="642.10" x2="428.90" y2="642.10" stroke="#e03a3a" stroke-width="2.4" />
<text x="432.80" y="644.60" font-size="7.4" font-weight="bold" fill="#e03a3a">H3K27me3</text>
<rect x="589.00" y="363.40" width="14.60" height="94.11" fill="#d4d4d4" stroke="#9a9a9a" stroke-width="1.6"/>
<rect x="589.00" y="458.31" width="14.60" height="13.02" fill="#fed37c" stroke="#bdbdbd" stroke-width="1.6"/>
<rect x="589.00" y="472.13" width="14.60" height="16.47" fill="#f28e36" stroke="#000" stroke-width="1.6"/>
<rect x="614.90" y="363.40" width="14.60" height="40.43" fill="#d4d4d4" stroke="#9a9a9a" stroke-width="1.6"/>
<rect x="614.90" y="404.63" width="14.60" height="20.99" fill="#fed37c" stroke="#bdbdbd" stroke-width="1.6"/>
<rect x="614.90" y="426.42" width="14.60" height="62.18" fill="#f28e36" stroke="#000" stroke-width="1.6"/>
<rect x="640.70" y="363.40" width="14.60" height="85.61" fill="#d4d4d4" stroke="#9a9a9a" stroke-width="1.6"/>
<rect x="640.70" y="449.81" width="14.60" height="12.49" fill="#fed37c" stroke="#bdbdbd" stroke-width="1.6"/>
<rect x="640.70" y="463.09" width="14.60" height="25.51" fill="#f28e36" stroke="#000" stroke-width="1.6"/>
<rect x="617.20" y="361.0" width="10" height="2.4" fill="#000"/>
<rect x="643.00" y="361.0" width="10" height="2.4" fill="#000"/>
<line x1="622.20" y1="421.10" x2="622.20" y2="429.10" stroke="#000" stroke-width="1.7" />
<line x1="617.45" y1="421.10" x2="626.95" y2="421.10" stroke="#000" stroke-width="1.7" />
<line x1="617.45" y1="429.10" x2="626.95" y2="429.10" stroke="#000" stroke-width="1.7" />
<line x1="622.20" y1="400.70" x2="622.20" y2="404.00" stroke="#000" stroke-width="1.7" />
<line x1="617.45" y1="400.70" x2="626.95" y2="400.70" stroke="#000" stroke-width="1.7" />
<line x1="617.45" y1="404.00" x2="626.95" y2="404.00" stroke="#000" stroke-width="1.7" />
<line x1="648.00" y1="442.00" x2="648.00" y2="471.80" stroke="#000" stroke-width="1.7" />
<line x1="643.25" y1="442.00" x2="652.75" y2="442.00" stroke="#000" stroke-width="1.7" />
<line x1="643.25" y1="471.80" x2="652.75" y2="471.80" stroke="#000" stroke-width="1.7" />
<line x1="648.00" y1="451.40" x2="648.00" y2="453.40" stroke="#000" stroke-width="1.7" />
<line x1="643.25" y1="451.40" x2="652.75" y2="451.40" stroke="#000" stroke-width="1.7" />
<line x1="643.25" y1="453.40" x2="652.75" y2="453.40" stroke="#000" stroke-width="1.7" />
<path d="M571.50,362.1 H579.0 V371.3 M574.90,371.3 H583.10" stroke="#000" stroke-width="1.7" fill="none" />
<path d="M574.90,383.1 H583.10 M579.0,383.1 V490.2" stroke="#000" stroke-width="1.7" fill="none" />
<path d="M573.0,489.4 H665.2" stroke="#000" stroke-width="1.7" fill="none" />
<line x1="573.50" y1="409.67" x2="579.00" y2="409.67" stroke="#000" stroke-width="1.5" />
<line x1="573.50" y1="436.25" x2="579.00" y2="436.25" stroke="#000" stroke-width="1.5" />
<line x1="573.50" y1="462.82" x2="579.00" y2="462.82" stroke="#000" stroke-width="1.5" />
<line x1="573.50" y1="489.40" x2="579.00" y2="489.40" stroke="#000" stroke-width="1.5" />
<line x1="576.30" y1="476.11" x2="579.00" y2="476.11" stroke="#000" stroke-width="1.3" />
<line x1="576.30" y1="449.54" x2="579.00" y2="449.54" stroke="#000" stroke-width="1.3" />
<line x1="576.30" y1="422.96" x2="579.00" y2="422.96" stroke="#000" stroke-width="1.3" />
<line x1="576.30" y1="396.39" x2="579.00" y2="396.39" stroke="#000" stroke-width="1.3" />
<text x="0" y="0" transform="translate(567.00,365.20) scale(0.93,1)" font-size="8.6" fill="#111" text-anchor="end" >100</text>
<text x="0" y="0" transform="translate(568.20,374.40) scale(0.93,1)" font-size="8.6" fill="#111" text-anchor="end" >50</text>
<text x="0" y="0" transform="translate(569.40,386.20) scale(0.93,1)" font-size="8.6" fill="#111" text-anchor="end" >20</text>
<text x="0" y="0" transform="translate(569.40,412.77) scale(0.93,1)" font-size="8.6" fill="#111" text-anchor="end" >15</text>
<text x="0" y="0" transform="translate(569.40,439.35) scale(0.93,1)" font-size="8.6" fill="#111" text-anchor="end" >10</text>
<text x="0" y="0" transform="translate(569.40,465.93) scale(0.93,1)" font-size="8.6" fill="#111" text-anchor="end" >5</text>
<text x="0" y="0" transform="translate(569.40,492.50) scale(0.93,1)" font-size="8.6" fill="#111" text-anchor="end" >0</text>
<line x1="596.30" y1="489.40" x2="596.30" y2="494.20" stroke="#000" stroke-width="1.5" />
<line x1="622.20" y1="489.40" x2="622.20" y2="494.20" stroke="#000" stroke-width="1.5" />
<line x1="648.00" y1="489.40" x2="648.00" y2="494.20" stroke="#000" stroke-width="1.5" />
<text x="0" y="0" font-size="9.2" fill="#111" text-anchor="middle" transform="translate(541.00,424.80) rotate(-90)">% CpG methylation state</text>
<text x="0" y="0" font-size="8.3" fill="#ff3c3c" text-anchor="end" transform="translate(602.80,502.00) rotate(-45)">H3K27me3</text>
<text x="0" y="0" font-size="8.3" fill="#33aa33" text-anchor="end" transform="translate(628.70,502.00) rotate(-45)">H3K4me1</text>
<text x="0" y="0" font-size="8.3" fill="#4a4ae8" text-anchor="end" transform="translate(654.50,502.00) rotate(-45)">H3K27ac</text>
<rect x="555.75" y="334.85" width="14.00" height="7.20" fill="#f28e36" stroke="#000" stroke-width="1.7"/>
<rect x="602.75" y="334.85" width="13.40" height="7.20" fill="#fed37c" stroke="#bdbdbd" stroke-width="1.7"/>
<rect x="652.15" y="334.85" width="13.40" height="7.20" fill="#d4d4d4" stroke="#9a9a9a" stroke-width="1.7"/>
<text x="0" y="0" transform="translate(577.30,341.70) scale(0.93,1)" font-size="8.6" fill="#111" text-anchor="start" >5mC</text>
<text x="0" y="0" transform="translate(624.00,341.70) scale(0.93,1)" font-size="8.6" fill="#111" text-anchor="start" >5hmC</text>
<text x="0" y="0" transform="translate(673.40,342.90) scale(0.93,1)" font-size="8.6" fill="#111" text-anchor="start" >C</text>
<rect x="589.00" y="588.20" width="14.60" height="51.30" fill="#fed37c" stroke="#bdbdbd" stroke-width="1.6"/>
<rect x="589.00" y="640.30" width="14.60" height="63.90" fill="#f28e36" stroke="#000" stroke-width="1.6"/>
<rect x="614.90" y="588.20" width="14.60" height="30.48" fill="#fed37c" stroke="#bdbdbd" stroke-width="1.6"/>
<rect x="614.90" y="619.48" width="14.60" height="84.72" fill="#f28e36" stroke="#000" stroke-width="1.6"/>
<rect x="640.70" y="588.20" width="14.60" height="38.48" fill="#fed37c" stroke="#bdbdbd" stroke-width="1.6"/>
<rect x="640.70" y="627.48" width="14.60" height="76.72" fill="#f28e36" stroke="#000" stroke-width="1.6"/>
<line x1="622.20" y1="585.80" x2="622.20" y2="589.40" stroke="#000" stroke-width="1.6" />
<line x1="617.20" y1="585.80" x2="627.20" y2="585.80" stroke="#000" stroke-width="1.6" />
<line x1="617.20" y1="589.40" x2="627.20" y2="589.40" stroke="#000" stroke-width="1.6" />
<line x1="622.20" y1="616.60" x2="622.20" y2="619.20" stroke="#000" stroke-width="1.6" />
<line x1="617.20" y1="616.60" x2="627.20" y2="616.60" stroke="#000" stroke-width="1.6" />
<line x1="617.20" y1="619.20" x2="627.20" y2="619.20" stroke="#000" stroke-width="1.6" />
<line x1="648.00" y1="579.30" x2="648.00" y2="595.40" stroke="#000" stroke-width="1.6" />
<line x1="643.00" y1="579.30" x2="653.00" y2="579.30" stroke="#000" stroke-width="1.6" />
<line x1="643.00" y1="595.40" x2="653.00" y2="595.40" stroke="#000" stroke-width="1.6" />
<line x1="648.00" y1="617.60" x2="648.00" y2="633.40" stroke="#000" stroke-width="1.6" />
<line x1="643.00" y1="617.60" x2="653.00" y2="617.60" stroke="#000" stroke-width="1.6" />
<line x1="643.00" y1="633.40" x2="653.00" y2="633.40" stroke="#000" stroke-width="1.6" />
<path d="M579.0,576.1 V705.8 M573.5,705.0 H664.5" stroke="#000" stroke-width="1.7" fill="none" />
<line x1="573.50" y1="587.40" x2="579.00" y2="587.40" stroke="#000" stroke-width="1.5" />
<text x="0" y="0" transform="translate(569.40,590.50) scale(0.93,1)" font-size="8.6" fill="#111" text-anchor="end" >100</text>
<line x1="573.50" y1="616.80" x2="579.00" y2="616.80" stroke="#000" stroke-width="1.5" />
<text x="0" y="0" transform="translate(569.40,619.90) scale(0.93,1)" font-size="8.6" fill="#111" text-anchor="end" >75</text>
<line x1="573.50" y1="646.20" x2="579.00" y2="646.20" stroke="#000" stroke-width="1.5" />
<text x="0" y="0" transform="translate(569.40,649.30) scale(0.93,1)" font-size="8.6" fill="#111" text-anchor="end" >50</text>
<line x1="573.50" y1="675.60" x2="579.00" y2="675.60" stroke="#000" stroke-width="1.5" />
<text x="0" y="0" transform="translate(569.40,678.70) scale(0.93,1)" font-size="8.6" fill="#111" text-anchor="end" >25</text>
<line x1="573.50" y1="705.00" x2="579.00" y2="705.00" stroke="#000" stroke-width="1.5" />
<text x="0" y="0" transform="translate(569.40,708.10) scale(0.93,1)" font-size="8.6" fill="#111" text-anchor="end" >0</text>
<line x1="596.30" y1="705.00" x2="596.30" y2="709.30" stroke="#000" stroke-width="1.5" />
<line x1="622.20" y1="705.00" x2="622.20" y2="709.30" stroke="#000" stroke-width="1.5" />
<line x1="648.00" y1="705.00" x2="648.00" y2="709.30" stroke="#000" stroke-width="1.5" />
<text x="0" y="0" font-size="9.2" fill="#111" text-anchor="middle" transform="translate(545.00,644.10) rotate(-90)">% CpG methylation state</text>
<text x="0" y="0" font-size="8.3" fill="#ff3c3c" text-anchor="end" transform="translate(602.80,717.00) rotate(-45)">H3K27me3</text>
<text x="0" y="0" font-size="8.3" fill="#33aa33" text-anchor="end" transform="translate(628.70,717.00) rotate(-45)">H3K4me1</text>
<text x="0" y="0" font-size="8.3" fill="#4a4ae8" text-anchor="end" transform="translate(654.50,717.00) rotate(-45)">H3K27ac</text>
<rect x="579.35" y="551.65" width="13.30" height="6.80" fill="#f28e36" stroke="#000" stroke-width="1.7"/>
<rect x="626.85" y="551.65" width="12.70" height="6.80" fill="#fed37c" stroke="#bdbdbd" stroke-width="1.7"/>
<text x="0" y="0" transform="translate(600.70,558.50) scale(0.93,1)" font-size="8.6" fill="#111" text-anchor="start" >5mC</text>
<text x="0" y="0" transform="translate(647.60,558.50) scale(0.93,1)" font-size="8.6" fill="#111" text-anchor="start" >5hmC</text>
</g>
</svg>
</body></html>
